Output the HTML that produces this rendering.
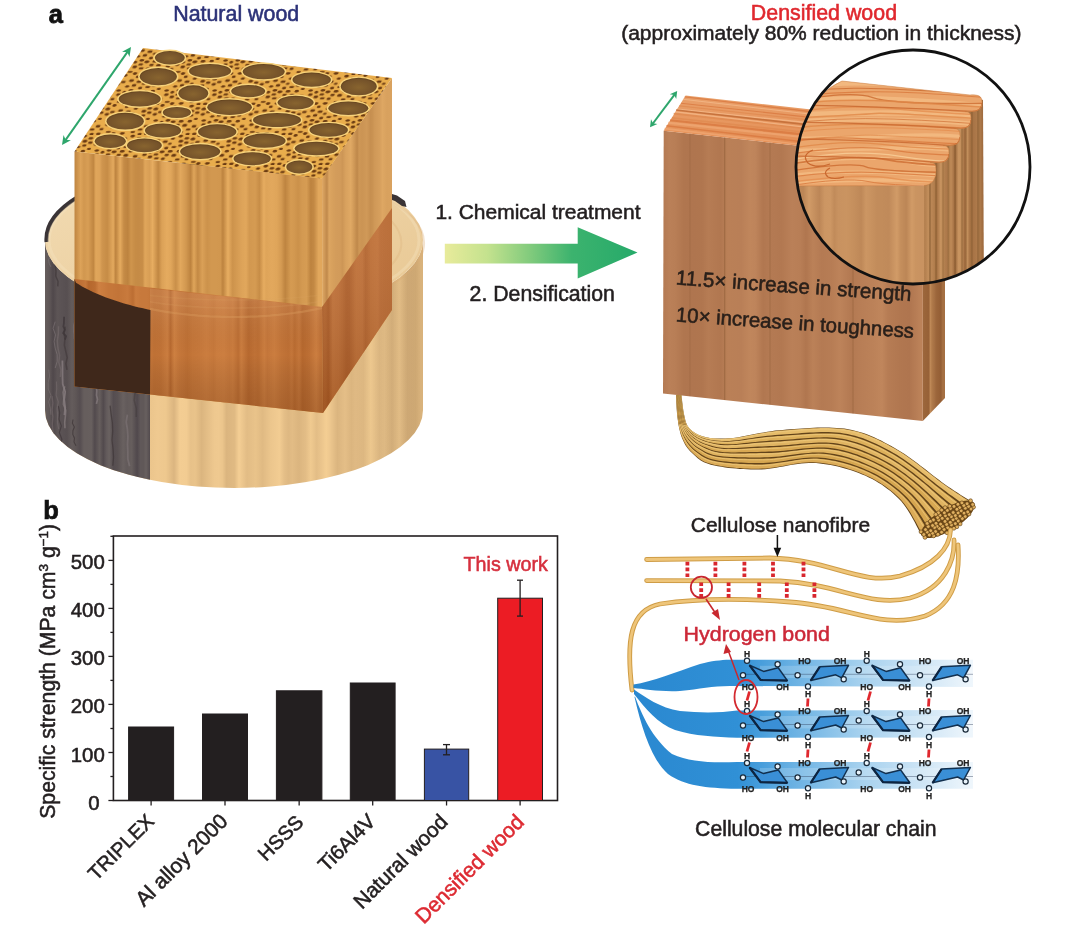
<!DOCTYPE html><html><head><meta charset="utf-8"><style>html,body{margin:0;padding:0;background:#fff;width:1065px;height:937px;overflow:hidden}svg{display:block;filter:blur(0.45px)}</style></head><body><svg width="1065" height="937" viewBox="0 0 1065 937"><defs><linearGradient id="gFront" gradientUnits="userSpaceOnUse" x1="75" y1="0" x2="323" y2="0"><stop offset="0.0000" stop-color="rgb(193, 135, 67)"/><stop offset="0.0226" stop-color="rgb(221, 163, 89)"/><stop offset="0.0360" stop-color="rgb(209, 151, 79)"/><stop offset="0.0524" stop-color="rgb(216, 158, 85)"/><stop offset="0.0741" stop-color="rgb(192, 134, 65)"/><stop offset="0.0839" stop-color="rgb(224, 166, 91)"/><stop offset="0.1000" stop-color="rgb(221, 163, 89)"/><stop offset="0.1094" stop-color="rgb(207, 149, 78)"/><stop offset="0.1301" stop-color="rgb(198, 140, 70)"/><stop offset="0.1542" stop-color="rgb(227, 169, 94)"/><stop offset="0.1641" stop-color="rgb(189, 131, 63)"/><stop offset="0.1819" stop-color="rgb(229, 171, 95)"/><stop offset="0.1972" stop-color="rgb(197, 139, 70)"/><stop offset="0.2132" stop-color="rgb(189, 131, 63)"/><stop offset="0.2261" stop-color="rgb(207, 149, 77)"/><stop offset="0.2432" stop-color="rgb(198, 140, 70)"/><stop offset="0.2562" stop-color="rgb(197, 139, 70)"/><stop offset="0.2727" stop-color="rgb(200, 142, 72)"/><stop offset="0.2824" stop-color="rgb(224, 166, 91)"/><stop offset="0.3005" stop-color="rgb(216, 158, 85)"/><stop offset="0.3128" stop-color="rgb(231, 173, 97)"/><stop offset="0.3356" stop-color="rgb(193, 135, 66)"/><stop offset="0.3502" stop-color="rgb(219, 161, 87)"/><stop offset="0.3707" stop-color="rgb(229, 171, 95)"/><stop offset="0.3866" stop-color="rgb(224, 166, 91)"/><stop offset="0.4065" stop-color="rgb(201, 143, 73)"/><stop offset="0.4250" stop-color="rgb(226, 168, 93)"/><stop offset="0.4476" stop-color="rgb(210, 152, 80)"/><stop offset="0.4662" stop-color="rgb(189, 131, 63)"/><stop offset="0.4794" stop-color="rgb(223, 165, 90)"/><stop offset="0.4952" stop-color="rgb(195, 137, 68)"/><stop offset="0.5132" stop-color="rgb(218, 160, 87)"/><stop offset="0.5331" stop-color="rgb(204, 146, 75)"/><stop offset="0.5493" stop-color="rgb(210, 152, 80)"/><stop offset="0.5709" stop-color="rgb(210, 152, 80)"/><stop offset="0.5864" stop-color="rgb(209, 151, 79)"/><stop offset="0.5962" stop-color="rgb(189, 131, 63)"/><stop offset="0.6166" stop-color="rgb(231, 173, 97)"/><stop offset="0.6352" stop-color="rgb(205, 147, 76)"/><stop offset="0.6473" stop-color="rgb(210, 152, 80)"/><stop offset="0.6720" stop-color="rgb(221, 163, 89)"/><stop offset="0.6898" stop-color="rgb(225, 167, 92)"/><stop offset="0.7028" stop-color="rgb(210, 152, 80)"/><stop offset="0.7270" stop-color="rgb(213, 155, 82)"/><stop offset="0.7436" stop-color="rgb(199, 141, 71)"/><stop offset="0.7615" stop-color="rgb(230, 172, 96)"/><stop offset="0.7710" stop-color="rgb(222, 164, 89)"/><stop offset="0.7932" stop-color="rgb(226, 168, 93)"/><stop offset="0.8141" stop-color="rgb(223, 165, 90)"/><stop offset="0.8316" stop-color="rgb(212, 154, 82)"/><stop offset="0.8476" stop-color="rgb(190, 132, 64)"/><stop offset="0.8706" stop-color="rgb(213, 155, 82)"/><stop offset="0.8831" stop-color="rgb(210, 152, 80)"/><stop offset="0.9001" stop-color="rgb(203, 145, 74)"/><stop offset="0.9148" stop-color="rgb(211, 153, 81)"/><stop offset="0.9340" stop-color="rgb(214, 156, 83)"/><stop offset="0.9505" stop-color="rgb(189, 131, 63)"/><stop offset="0.9635" stop-color="rgb(195, 137, 68)"/><stop offset="0.9820" stop-color="rgb(225, 167, 92)"/><stop offset="1.0000" stop-color="rgb(225, 167, 92)"/></linearGradient><linearGradient id="gRight" gradientUnits="userSpaceOnUse" x1="322" y1="0" x2="392" y2="0"><stop offset="0.0000" stop-color="rgb(224, 169, 101)"/><stop offset="0.0704" stop-color="rgb(192, 137, 75)"/><stop offset="0.1015" stop-color="rgb(220, 165, 97)"/><stop offset="0.1622" stop-color="rgb(214, 159, 92)"/><stop offset="0.2035" stop-color="rgb(211, 156, 91)"/><stop offset="0.2583" stop-color="rgb(210, 155, 90)"/><stop offset="0.2928" stop-color="rgb(205, 150, 86)"/><stop offset="0.3380" stop-color="rgb(216, 161, 94)"/><stop offset="0.4105" stop-color="rgb(224, 169, 100)"/><stop offset="0.4625" stop-color="rgb(206, 151, 86)"/><stop offset="0.5019" stop-color="rgb(191, 136, 74)"/><stop offset="0.5305" stop-color="rgb(206, 151, 86)"/><stop offset="0.5722" stop-color="rgb(203, 148, 84)"/><stop offset="0.6400" stop-color="rgb(208, 153, 88)"/><stop offset="0.6928" stop-color="rgb(198, 143, 80)"/><stop offset="0.7211" stop-color="rgb(201, 146, 82)"/><stop offset="0.7546" stop-color="rgb(208, 153, 88)"/><stop offset="0.8273" stop-color="rgb(214, 159, 93)"/><stop offset="0.8628" stop-color="rgb(222, 167, 99)"/><stop offset="0.9263" stop-color="rgb(216, 161, 94)"/><stop offset="0.9948" stop-color="rgb(217, 162, 95)"/><stop offset="1.0000" stop-color="rgb(217, 162, 95)"/></linearGradient><linearGradient id="gFrontLow" gradientUnits="userSpaceOnUse" x1="75" y1="0" x2="323" y2="0"><stop offset="0.0000" stop-color="rgb(187, 109, 50)"/><stop offset="0.0208" stop-color="rgb(190, 112, 53)"/><stop offset="0.0427" stop-color="rgb(197, 119, 58)"/><stop offset="0.0548" stop-color="rgb(181, 103, 45)"/><stop offset="0.0809" stop-color="rgb(187, 109, 50)"/><stop offset="0.0961" stop-color="rgb(206, 128, 66)"/><stop offset="0.1156" stop-color="rgb(202, 124, 62)"/><stop offset="0.1351" stop-color="rgb(197, 119, 58)"/><stop offset="0.1488" stop-color="rgb(197, 119, 58)"/><stop offset="0.1755" stop-color="rgb(194, 116, 56)"/><stop offset="0.1999" stop-color="rgb(198, 120, 59)"/><stop offset="0.2119" stop-color="rgb(200, 122, 61)"/><stop offset="0.2336" stop-color="rgb(188, 110, 51)"/><stop offset="0.2451" stop-color="rgb(203, 125, 63)"/><stop offset="0.2646" stop-color="rgb(199, 121, 60)"/><stop offset="0.2914" stop-color="rgb(199, 121, 60)"/><stop offset="0.3191" stop-color="rgb(191, 113, 53)"/><stop offset="0.3446" stop-color="rgb(192, 114, 54)"/><stop offset="0.3725" stop-color="rgb(203, 125, 63)"/><stop offset="0.3852" stop-color="rgb(184, 106, 48)"/><stop offset="0.4000" stop-color="rgb(206, 128, 65)"/><stop offset="0.4189" stop-color="rgb(197, 119, 58)"/><stop offset="0.4353" stop-color="rgb(194, 116, 56)"/><stop offset="0.4532" stop-color="rgb(190, 112, 52)"/><stop offset="0.4747" stop-color="rgb(196, 118, 57)"/><stop offset="0.5021" stop-color="rgb(198, 120, 59)"/><stop offset="0.5299" stop-color="rgb(203, 125, 63)"/><stop offset="0.5588" stop-color="rgb(198, 120, 59)"/><stop offset="0.5727" stop-color="rgb(203, 125, 63)"/><stop offset="0.6011" stop-color="rgb(204, 126, 64)"/><stop offset="0.6224" stop-color="rgb(199, 121, 60)"/><stop offset="0.6371" stop-color="rgb(202, 124, 62)"/><stop offset="0.6585" stop-color="rgb(188, 110, 51)"/><stop offset="0.6705" stop-color="rgb(203, 125, 63)"/><stop offset="0.6994" stop-color="rgb(183, 105, 47)"/><stop offset="0.7249" stop-color="rgb(191, 113, 54)"/><stop offset="0.7385" stop-color="rgb(188, 110, 51)"/><stop offset="0.7634" stop-color="rgb(203, 125, 63)"/><stop offset="0.7751" stop-color="rgb(196, 118, 58)"/><stop offset="0.7869" stop-color="rgb(199, 121, 60)"/><stop offset="0.8038" stop-color="rgb(203, 125, 63)"/><stop offset="0.8325" stop-color="rgb(194, 116, 56)"/><stop offset="0.8616" stop-color="rgb(189, 111, 52)"/><stop offset="0.8739" stop-color="rgb(196, 118, 58)"/><stop offset="0.8854" stop-color="rgb(186, 108, 49)"/><stop offset="0.9037" stop-color="rgb(196, 118, 58)"/><stop offset="0.9175" stop-color="rgb(182, 104, 46)"/><stop offset="0.9442" stop-color="rgb(189, 111, 52)"/><stop offset="0.9725" stop-color="rgb(204, 126, 64)"/><stop offset="0.9903" stop-color="rgb(192, 114, 55)"/><stop offset="1.0000" stop-color="rgb(192, 114, 55)"/></linearGradient><linearGradient id="gRightLow" gradientUnits="userSpaceOnUse" x1="322" y1="0" x2="392" y2="0"><stop offset="0.0000" stop-color="rgb(177, 97, 42)"/><stop offset="0.0439" stop-color="rgb(181, 101, 45)"/><stop offset="0.0911" stop-color="rgb(172, 92, 38)"/><stop offset="0.1537" stop-color="rgb(194, 114, 56)"/><stop offset="0.2413" stop-color="rgb(190, 110, 53)"/><stop offset="0.2926" stop-color="rgb(184, 104, 48)"/><stop offset="0.3474" stop-color="rgb(175, 95, 41)"/><stop offset="0.3916" stop-color="rgb(176, 96, 42)"/><stop offset="0.4870" stop-color="rgb(192, 112, 54)"/><stop offset="0.5749" stop-color="rgb(191, 111, 54)"/><stop offset="0.6245" stop-color="rgb(179, 99, 44)"/><stop offset="0.7012" stop-color="rgb(190, 110, 52)"/><stop offset="0.7921" stop-color="rgb(193, 113, 55)"/><stop offset="0.8351" stop-color="rgb(186, 106, 50)"/><stop offset="0.9145" stop-color="rgb(184, 104, 48)"/><stop offset="0.9631" stop-color="rgb(183, 103, 47)"/><stop offset="1.0000" stop-color="rgb(183, 103, 47)"/></linearGradient><linearGradient id="gCyl" gradientUnits="userSpaceOnUse" x1="150" y1="0" x2="423" y2="0"><stop offset="0.0000" stop-color="rgb(235, 197, 140)"/><stop offset="0.0268" stop-color="rgb(239, 201, 144)"/><stop offset="0.0577" stop-color="rgb(238, 200, 142)"/><stop offset="0.0881" stop-color="rgb(219, 181, 128)"/><stop offset="0.1094" stop-color="rgb(243, 205, 147)"/><stop offset="0.1344" stop-color="rgb(242, 204, 146)"/><stop offset="0.1487" stop-color="rgb(231, 193, 137)"/><stop offset="0.1656" stop-color="rgb(233, 195, 138)"/><stop offset="0.1891" stop-color="rgb(219, 181, 127)"/><stop offset="0.2054" stop-color="rgb(226, 188, 133)"/><stop offset="0.2358" stop-color="rgb(238, 200, 143)"/><stop offset="0.2510" stop-color="rgb(239, 201, 144)"/><stop offset="0.2657" stop-color="rgb(235, 197, 140)"/><stop offset="0.2803" stop-color="rgb(219, 181, 127)"/><stop offset="0.3097" stop-color="rgb(224, 186, 131)"/><stop offset="0.3260" stop-color="rgb(244, 206, 148)"/><stop offset="0.3554" stop-color="rgb(226, 188, 133)"/><stop offset="0.3867" stop-color="rgb(233, 195, 138)"/><stop offset="0.4122" stop-color="rgb(224, 186, 131)"/><stop offset="0.4431" stop-color="rgb(236, 198, 141)"/><stop offset="0.4744" stop-color="rgb(242, 204, 146)"/><stop offset="0.4924" stop-color="rgb(228, 190, 135)"/><stop offset="0.5077" stop-color="rgb(222, 184, 130)"/><stop offset="0.5210" stop-color="rgb(226, 188, 133)"/><stop offset="0.5450" stop-color="rgb(219, 181, 127)"/><stop offset="0.5706" stop-color="rgb(227, 189, 134)"/><stop offset="0.5888" stop-color="rgb(240, 202, 144)"/><stop offset="0.6104" stop-color="rgb(227, 189, 134)"/><stop offset="0.6320" stop-color="rgb(237, 199, 142)"/><stop offset="0.6452" stop-color="rgb(244, 206, 147)"/><stop offset="0.6576" stop-color="rgb(238, 200, 143)"/><stop offset="0.6865" stop-color="rgb(219, 181, 127)"/><stop offset="0.7143" stop-color="rgb(228, 190, 135)"/><stop offset="0.7379" stop-color="rgb(219, 181, 127)"/><stop offset="0.7508" stop-color="rgb(223, 185, 131)"/><stop offset="0.7819" stop-color="rgb(224, 186, 131)"/><stop offset="0.8090" stop-color="rgb(243, 205, 146)"/><stop offset="0.8399" stop-color="rgb(227, 189, 134)"/><stop offset="0.8590" stop-color="rgb(232, 194, 138)"/><stop offset="0.8865" stop-color="rgb(221, 183, 129)"/><stop offset="0.9134" stop-color="rgb(239, 201, 144)"/><stop offset="0.9426" stop-color="rgb(219, 181, 128)"/><stop offset="0.9735" stop-color="rgb(221, 183, 129)"/><stop offset="0.9924" stop-color="rgb(234, 196, 140)"/><stop offset="1.0000" stop-color="rgb(234, 196, 140)"/></linearGradient><linearGradient id="gBark" gradientUnits="userSpaceOnUse" x1="45" y1="0" x2="150" y2="0"><stop offset="0.0000" stop-color="rgb(102, 94, 93)"/><stop offset="0.0474" stop-color="rgb(93, 85, 86)"/><stop offset="0.0761" stop-color="rgb(80, 72, 75)"/><stop offset="0.1182" stop-color="rgb(93, 85, 86)"/><stop offset="0.1635" stop-color="rgb(90, 82, 84)"/><stop offset="0.2092" stop-color="rgb(87, 79, 81)"/><stop offset="0.2559" stop-color="rgb(100, 92, 92)"/><stop offset="0.2897" stop-color="rgb(95, 87, 87)"/><stop offset="0.3325" stop-color="rgb(85, 77, 80)"/><stop offset="0.3709" stop-color="rgb(102, 94, 93)"/><stop offset="0.3998" stop-color="rgb(102, 94, 93)"/><stop offset="0.4426" stop-color="rgb(103, 95, 94)"/><stop offset="0.4738" stop-color="rgb(82, 74, 77)"/><stop offset="0.5205" stop-color="rgb(102, 94, 93)"/><stop offset="0.5553" stop-color="rgb(82, 74, 77)"/><stop offset="0.5819" stop-color="rgb(97, 89, 90)"/><stop offset="0.6116" stop-color="rgb(106, 98, 97)"/><stop offset="0.6512" stop-color="rgb(85, 77, 80)"/><stop offset="0.6931" stop-color="rgb(90, 82, 83)"/><stop offset="0.7442" stop-color="rgb(105, 97, 96)"/><stop offset="0.7813" stop-color="rgb(98, 90, 90)"/><stop offset="0.8246" stop-color="rgb(102, 94, 93)"/><stop offset="0.8771" stop-color="rgb(80, 72, 76)"/><stop offset="0.9092" stop-color="rgb(96, 88, 89)"/><stop offset="0.9393" stop-color="rgb(96, 88, 88)"/><stop offset="0.9623" stop-color="rgb(104, 96, 95)"/><stop offset="0.9998" stop-color="rgb(83, 75, 78)"/><stop offset="1.0000" stop-color="rgb(83, 75, 78)"/></linearGradient><linearGradient id="gDFront" gradientUnits="userSpaceOnUse" x1="663" y1="0" x2="923" y2="0"><stop offset="0.0000" stop-color="rgb(180, 122, 83)"/><stop offset="0.0250" stop-color="rgb(186, 128, 88)"/><stop offset="0.0474" stop-color="rgb(184, 126, 86)"/><stop offset="0.0796" stop-color="rgb(176, 118, 79)"/><stop offset="0.1165" stop-color="rgb(175, 117, 79)"/><stop offset="0.1510" stop-color="rgb(176, 118, 79)"/><stop offset="0.1740" stop-color="rgb(182, 124, 84)"/><stop offset="0.2216" stop-color="rgb(177, 119, 80)"/><stop offset="0.2490" stop-color="rgb(186, 128, 87)"/><stop offset="0.3006" stop-color="rgb(185, 127, 87)"/><stop offset="0.3338" stop-color="rgb(192, 134, 92)"/><stop offset="0.3554" stop-color="rgb(190, 132, 91)"/><stop offset="0.3850" stop-color="rgb(177, 119, 80)"/><stop offset="0.4090" stop-color="rgb(180, 122, 83)"/><stop offset="0.4562" stop-color="rgb(178, 120, 81)"/><stop offset="0.4956" stop-color="rgb(186, 128, 88)"/><stop offset="0.5280" stop-color="rgb(184, 126, 86)"/><stop offset="0.5501" stop-color="rgb(176, 118, 79)"/><stop offset="0.5769" stop-color="rgb(187, 129, 88)"/><stop offset="0.6112" stop-color="rgb(180, 122, 83)"/><stop offset="0.6507" stop-color="rgb(183, 125, 85)"/><stop offset="0.6807" stop-color="rgb(189, 131, 90)"/><stop offset="0.7240" stop-color="rgb(179, 121, 82)"/><stop offset="0.7631" stop-color="rgb(184, 126, 86)"/><stop offset="0.8123" stop-color="rgb(188, 130, 89)"/><stop offset="0.8419" stop-color="rgb(192, 134, 92)"/><stop offset="0.8659" stop-color="rgb(182, 124, 84)"/><stop offset="0.9111" stop-color="rgb(177, 119, 80)"/><stop offset="0.9474" stop-color="rgb(175, 117, 79)"/><stop offset="0.9897" stop-color="rgb(188, 130, 89)"/><stop offset="1.0000" stop-color="rgb(188, 130, 89)"/></linearGradient><linearGradient id="gDRight" gradientUnits="userSpaceOnUse" x1="923" y1="0" x2="943" y2="0"><stop offset="0.0000" stop-color="rgb(157, 103, 60)"/><stop offset="0.1562" stop-color="rgb(153, 99, 56)"/><stop offset="0.2867" stop-color="rgb(151, 97, 55)"/><stop offset="0.3715" stop-color="rgb(191, 137, 87)"/><stop offset="0.4524" stop-color="rgb(176, 122, 74)"/><stop offset="0.5583" stop-color="rgb(167, 113, 68)"/><stop offset="0.6678" stop-color="rgb(156, 102, 59)"/><stop offset="0.8109" stop-color="rgb(151, 97, 55)"/><stop offset="0.8943" stop-color="rgb(148, 94, 53)"/><stop offset="0.9810" stop-color="rgb(165, 111, 66)"/><stop offset="1.0000" stop-color="rgb(165, 111, 66)"/></linearGradient><linearGradient id="gCFront" gradientUnits="userSpaceOnUse" x1="790" y1="0" x2="925" y2="0"><stop offset="0.0000" stop-color="rgb(199, 145, 95)"/><stop offset="0.0389" stop-color="rgb(191, 137, 89)"/><stop offset="0.0976" stop-color="rgb(188, 134, 86)"/><stop offset="0.1417" stop-color="rgb(209, 155, 103)"/><stop offset="0.1689" stop-color="rgb(201, 147, 97)"/><stop offset="0.2176" stop-color="rgb(188, 134, 87)"/><stop offset="0.2568" stop-color="rgb(204, 150, 99)"/><stop offset="0.2988" stop-color="rgb(205, 151, 100)"/><stop offset="0.3291" stop-color="rgb(193, 139, 90)"/><stop offset="0.3576" stop-color="rgb(200, 146, 96)"/><stop offset="0.4185" stop-color="rgb(202, 148, 97)"/><stop offset="0.4735" stop-color="rgb(197, 143, 93)"/><stop offset="0.5273" stop-color="rgb(190, 136, 88)"/><stop offset="0.5630" stop-color="rgb(204, 150, 99)"/><stop offset="0.6160" stop-color="rgb(198, 144, 94)"/><stop offset="0.6435" stop-color="rgb(194, 140, 91)"/><stop offset="0.6759" stop-color="rgb(194, 140, 91)"/><stop offset="0.7323" stop-color="rgb(192, 138, 90)"/><stop offset="0.7918" stop-color="rgb(209, 155, 103)"/><stop offset="0.8179" stop-color="rgb(197, 143, 93)"/><stop offset="0.8616" stop-color="rgb(188, 134, 86)"/><stop offset="0.9026" stop-color="rgb(209, 155, 103)"/><stop offset="0.9311" stop-color="rgb(202, 148, 97)"/><stop offset="0.9599" stop-color="rgb(201, 147, 97)"/><stop offset="1.0000" stop-color="rgb(201, 147, 97)"/></linearGradient><linearGradient id="gCRight" gradientUnits="userSpaceOnUse" x1="923" y1="0" x2="984" y2="0"><stop offset="0.0000" stop-color="rgb(181, 129, 80)"/><stop offset="0.0468" stop-color="rgb(182, 130, 81)"/><stop offset="0.0834" stop-color="rgb(194, 142, 91)"/><stop offset="0.1481" stop-color="rgb(185, 133, 84)"/><stop offset="0.1827" stop-color="rgb(179, 127, 78)"/><stop offset="0.2248" stop-color="rgb(164, 112, 67)"/><stop offset="0.2954" stop-color="rgb(203, 151, 98)"/><stop offset="0.3247" stop-color="rgb(196, 144, 92)"/><stop offset="0.3794" stop-color="rgb(171, 119, 73)"/><stop offset="0.4196" stop-color="rgb(187, 135, 85)"/><stop offset="0.4676" stop-color="rgb(187, 135, 85)"/><stop offset="0.5250" stop-color="rgb(158, 106, 62)"/><stop offset="0.5871" stop-color="rgb(203, 151, 98)"/><stop offset="0.6585" stop-color="rgb(183, 131, 82)"/><stop offset="0.6878" stop-color="rgb(152, 100, 57)"/><stop offset="0.7211" stop-color="rgb(200, 148, 96)"/><stop offset="0.7622" stop-color="rgb(171, 119, 72)"/><stop offset="0.8303" stop-color="rgb(168, 116, 70)"/><stop offset="0.8825" stop-color="rgb(174, 122, 75)"/><stop offset="0.9127" stop-color="rgb(182, 130, 81)"/><stop offset="0.9784" stop-color="rgb(160, 108, 63)"/><stop offset="1.0000" stop-color="rgb(160, 108, 63)"/></linearGradient><linearGradient id="gArrow" gradientUnits="userSpaceOnUse" x1="445" y1="0" x2="637" y2="0"><stop offset="0" stop-color="#e8eb9b"/><stop offset="0.22" stop-color="#c4e28e"/><stop offset="0.45" stop-color="#7fca7c"/><stop offset="0.66" stop-color="#3cb36e"/><stop offset="1" stop-color="#26aa6a"/></linearGradient><radialGradient id="gPore" cx="0.5" cy="0.55" r="0.6"><stop offset="0" stop-color="#88642f"/><stop offset="0.75" stop-color="#74522a"/><stop offset="1" stop-color="#553612"/></radialGradient><linearGradient id="gShadeCyl" gradientUnits="userSpaceOnUse" x1="150" y1="0" x2="423" y2="0"><stop offset="0" stop-color="#000" stop-opacity="0"/><stop offset="0.75" stop-color="#000" stop-opacity="0"/><stop offset="1" stop-color="#5a3000" stop-opacity="0.12"/></linearGradient><linearGradient id="gLowShade" gradientUnits="userSpaceOnUse" x1="0" y1="300" x2="0" y2="410"><stop offset="0" stop-color="#fff" stop-opacity="0.08"/><stop offset="0.5" stop-color="#000" stop-opacity="0"/><stop offset="1" stop-color="#401800" stop-opacity="0.18"/></linearGradient><linearGradient id="gLowShade2" gradientUnits="userSpaceOnUse" x1="0" y1="220" x2="0" y2="400"><stop offset="0" stop-color="#fff" stop-opacity="0.06"/><stop offset="1" stop-color="#401800" stop-opacity="0.15"/></linearGradient><linearGradient id="gTopCyl" x1="0" y1="0" x2="1" y2="1"><stop offset="0" stop-color="#f2dcb4"/><stop offset="1" stop-color="#e8c792"/></linearGradient><linearGradient id="gRib" gradientUnits="userSpaceOnUse" x1="634" y1="0" x2="980" y2="0"><stop offset="0" stop-color="#2a88d0"/><stop offset="0.3" stop-color="#3090d6"/><stop offset="0.45" stop-color="#66afe2"/><stop offset="0.65" stop-color="#a4d0ee"/><stop offset="0.85" stop-color="#d2e7f6"/><stop offset="1" stop-color="#f4f9fd"/></linearGradient><linearGradient id="gTopD" x1="0" y1="0" x2="0" y2="1"><stop offset="0" stop-color="#e9a06a"/><stop offset="1" stop-color="#e38a50"/></linearGradient><pattern id="pPores" patternUnits="userSpaceOnUse" width="48" height="30" patternTransform="skewX(-20)"><rect width="48" height="30" fill="#e9ad4c"/><ellipse cx="-26.3" cy="-13.2" rx="1.9" ry="1.3" fill="#6a3a12"/><ellipse cx="-26.3" cy="16.8" rx="1.9" ry="1.3" fill="#6a3a12"/><ellipse cx="-26.3" cy="46.8" rx="1.9" ry="1.3" fill="#6a3a12"/><ellipse cx="21.7" cy="-13.2" rx="1.9" ry="1.3" fill="#6a3a12"/><ellipse cx="21.7" cy="16.8" rx="1.9" ry="1.3" fill="#6a3a12"/><ellipse cx="21.7" cy="46.8" rx="1.9" ry="1.3" fill="#6a3a12"/><ellipse cx="69.7" cy="-13.2" rx="1.9" ry="1.3" fill="#6a3a12"/><ellipse cx="69.7" cy="16.8" rx="1.9" ry="1.3" fill="#6a3a12"/><ellipse cx="69.7" cy="46.8" rx="1.9" ry="1.3" fill="#6a3a12"/><ellipse cx="-3.6" cy="-16.0" rx="2.1" ry="1.1" fill="#6a3a12"/><ellipse cx="-3.6" cy="14.0" rx="2.1" ry="1.1" fill="#6a3a12"/><ellipse cx="-3.6" cy="44.0" rx="2.1" ry="1.1" fill="#6a3a12"/><ellipse cx="44.4" cy="-16.0" rx="2.1" ry="1.1" fill="#6a3a12"/><ellipse cx="44.4" cy="14.0" rx="2.1" ry="1.1" fill="#6a3a12"/><ellipse cx="44.4" cy="44.0" rx="2.1" ry="1.1" fill="#6a3a12"/><ellipse cx="92.4" cy="-16.0" rx="2.1" ry="1.1" fill="#6a3a12"/><ellipse cx="92.4" cy="14.0" rx="2.1" ry="1.1" fill="#6a3a12"/><ellipse cx="92.4" cy="44.0" rx="2.1" ry="1.1" fill="#6a3a12"/><ellipse cx="-39.1" cy="-14.6" rx="2.0" ry="1.4" fill="#6a3a12"/><ellipse cx="-39.1" cy="15.4" rx="2.0" ry="1.4" fill="#6a3a12"/><ellipse cx="-39.1" cy="45.4" rx="2.0" ry="1.4" fill="#6a3a12"/><ellipse cx="8.9" cy="-14.6" rx="2.0" ry="1.4" fill="#6a3a12"/><ellipse cx="8.9" cy="15.4" rx="2.0" ry="1.4" fill="#6a3a12"/><ellipse cx="8.9" cy="45.4" rx="2.0" ry="1.4" fill="#6a3a12"/><ellipse cx="56.9" cy="-14.6" rx="2.0" ry="1.4" fill="#6a3a12"/><ellipse cx="56.9" cy="15.4" rx="2.0" ry="1.4" fill="#6a3a12"/><ellipse cx="56.9" cy="45.4" rx="2.0" ry="1.4" fill="#6a3a12"/><ellipse cx="-17.8" cy="-6.2" rx="1.9" ry="1.0" fill="#6a3a12"/><ellipse cx="-17.8" cy="23.8" rx="1.9" ry="1.0" fill="#6a3a12"/><ellipse cx="-17.8" cy="53.8" rx="1.9" ry="1.0" fill="#6a3a12"/><ellipse cx="30.2" cy="-6.2" rx="1.9" ry="1.0" fill="#6a3a12"/><ellipse cx="30.2" cy="23.8" rx="1.9" ry="1.0" fill="#6a3a12"/><ellipse cx="30.2" cy="53.8" rx="1.9" ry="1.0" fill="#6a3a12"/><ellipse cx="78.2" cy="-6.2" rx="1.9" ry="1.0" fill="#6a3a12"/><ellipse cx="78.2" cy="23.8" rx="1.9" ry="1.0" fill="#6a3a12"/><ellipse cx="78.2" cy="53.8" rx="1.9" ry="1.0" fill="#6a3a12"/><ellipse cx="-43.5" cy="-20.9" rx="2.1" ry="1.1" fill="#6a3a12"/><ellipse cx="-43.5" cy="9.1" rx="2.1" ry="1.1" fill="#6a3a12"/><ellipse cx="-43.5" cy="39.1" rx="2.1" ry="1.1" fill="#6a3a12"/><ellipse cx="4.5" cy="-20.9" rx="2.1" ry="1.1" fill="#6a3a12"/><ellipse cx="4.5" cy="9.1" rx="2.1" ry="1.1" fill="#6a3a12"/><ellipse cx="4.5" cy="39.1" rx="2.1" ry="1.1" fill="#6a3a12"/><ellipse cx="52.5" cy="-20.9" rx="2.1" ry="1.1" fill="#6a3a12"/><ellipse cx="52.5" cy="9.1" rx="2.1" ry="1.1" fill="#6a3a12"/><ellipse cx="52.5" cy="39.1" rx="2.1" ry="1.1" fill="#6a3a12"/><ellipse cx="-43.6" cy="-5.7" rx="2.2" ry="1.4" fill="#6a3a12"/><ellipse cx="-43.6" cy="24.3" rx="2.2" ry="1.4" fill="#6a3a12"/><ellipse cx="-43.6" cy="54.3" rx="2.2" ry="1.4" fill="#6a3a12"/><ellipse cx="4.4" cy="-5.7" rx="2.2" ry="1.4" fill="#6a3a12"/><ellipse cx="4.4" cy="24.3" rx="2.2" ry="1.4" fill="#6a3a12"/><ellipse cx="4.4" cy="54.3" rx="2.2" ry="1.4" fill="#6a3a12"/><ellipse cx="52.4" cy="-5.7" rx="2.2" ry="1.4" fill="#6a3a12"/><ellipse cx="52.4" cy="24.3" rx="2.2" ry="1.4" fill="#6a3a12"/><ellipse cx="52.4" cy="54.3" rx="2.2" ry="1.4" fill="#6a3a12"/><ellipse cx="-14.7" cy="-28.7" rx="2.5" ry="1.3" fill="#6a3a12"/><ellipse cx="-14.7" cy="1.3" rx="2.5" ry="1.3" fill="#6a3a12"/><ellipse cx="-14.7" cy="31.3" rx="2.5" ry="1.3" fill="#6a3a12"/><ellipse cx="33.3" cy="-28.7" rx="2.5" ry="1.3" fill="#6a3a12"/><ellipse cx="33.3" cy="1.3" rx="2.5" ry="1.3" fill="#6a3a12"/><ellipse cx="33.3" cy="31.3" rx="2.5" ry="1.3" fill="#6a3a12"/><ellipse cx="81.3" cy="-28.7" rx="2.5" ry="1.3" fill="#6a3a12"/><ellipse cx="81.3" cy="1.3" rx="2.5" ry="1.3" fill="#6a3a12"/><ellipse cx="81.3" cy="31.3" rx="2.5" ry="1.3" fill="#6a3a12"/><ellipse cx="-0.9" cy="-1.1" rx="2.0" ry="1.1" fill="#6a3a12"/><ellipse cx="-0.9" cy="28.9" rx="2.0" ry="1.1" fill="#6a3a12"/><ellipse cx="-0.9" cy="58.9" rx="2.0" ry="1.1" fill="#6a3a12"/><ellipse cx="47.1" cy="-1.1" rx="2.0" ry="1.1" fill="#6a3a12"/><ellipse cx="47.1" cy="28.9" rx="2.0" ry="1.1" fill="#6a3a12"/><ellipse cx="47.1" cy="58.9" rx="2.0" ry="1.1" fill="#6a3a12"/><ellipse cx="95.1" cy="-1.1" rx="2.0" ry="1.1" fill="#6a3a12"/><ellipse cx="95.1" cy="28.9" rx="2.0" ry="1.1" fill="#6a3a12"/><ellipse cx="95.1" cy="58.9" rx="2.0" ry="1.1" fill="#6a3a12"/><ellipse cx="-16.6" cy="-11.5" rx="2.1" ry="1.1" fill="#6a3a12"/><ellipse cx="-16.6" cy="18.5" rx="2.1" ry="1.1" fill="#6a3a12"/><ellipse cx="-16.6" cy="48.5" rx="2.1" ry="1.1" fill="#6a3a12"/><ellipse cx="31.4" cy="-11.5" rx="2.1" ry="1.1" fill="#6a3a12"/><ellipse cx="31.4" cy="18.5" rx="2.1" ry="1.1" fill="#6a3a12"/><ellipse cx="31.4" cy="48.5" rx="2.1" ry="1.1" fill="#6a3a12"/><ellipse cx="79.4" cy="-11.5" rx="2.1" ry="1.1" fill="#6a3a12"/><ellipse cx="79.4" cy="18.5" rx="2.1" ry="1.1" fill="#6a3a12"/><ellipse cx="79.4" cy="48.5" rx="2.1" ry="1.1" fill="#6a3a12"/><ellipse cx="-40.4" cy="-29.5" rx="2.2" ry="1.2" fill="#6a3a12"/><ellipse cx="-40.4" cy="0.5" rx="2.2" ry="1.2" fill="#6a3a12"/><ellipse cx="-40.4" cy="30.5" rx="2.2" ry="1.2" fill="#6a3a12"/><ellipse cx="7.6" cy="-29.5" rx="2.2" ry="1.2" fill="#6a3a12"/><ellipse cx="7.6" cy="0.5" rx="2.2" ry="1.2" fill="#6a3a12"/><ellipse cx="7.6" cy="30.5" rx="2.2" ry="1.2" fill="#6a3a12"/><ellipse cx="55.6" cy="-29.5" rx="2.2" ry="1.2" fill="#6a3a12"/><ellipse cx="55.6" cy="0.5" rx="2.2" ry="1.2" fill="#6a3a12"/><ellipse cx="55.6" cy="30.5" rx="2.2" ry="1.2" fill="#6a3a12"/><ellipse cx="-22.6" cy="-28.2" rx="2.5" ry="1.4" fill="#6a3a12"/><ellipse cx="-22.6" cy="1.8" rx="2.5" ry="1.4" fill="#6a3a12"/><ellipse cx="-22.6" cy="31.8" rx="2.5" ry="1.4" fill="#6a3a12"/><ellipse cx="25.4" cy="-28.2" rx="2.5" ry="1.4" fill="#6a3a12"/><ellipse cx="25.4" cy="1.8" rx="2.5" ry="1.4" fill="#6a3a12"/><ellipse cx="25.4" cy="31.8" rx="2.5" ry="1.4" fill="#6a3a12"/><ellipse cx="73.4" cy="-28.2" rx="2.5" ry="1.4" fill="#6a3a12"/><ellipse cx="73.4" cy="1.8" rx="2.5" ry="1.4" fill="#6a3a12"/><ellipse cx="73.4" cy="31.8" rx="2.5" ry="1.4" fill="#6a3a12"/><ellipse cx="-26.9" cy="-4.7" rx="2.3" ry="1.5" fill="#6a3a12"/><ellipse cx="-26.9" cy="25.3" rx="2.3" ry="1.5" fill="#6a3a12"/><ellipse cx="-26.9" cy="55.3" rx="2.3" ry="1.5" fill="#6a3a12"/><ellipse cx="21.1" cy="-4.7" rx="2.3" ry="1.5" fill="#6a3a12"/><ellipse cx="21.1" cy="25.3" rx="2.3" ry="1.5" fill="#6a3a12"/><ellipse cx="21.1" cy="55.3" rx="2.3" ry="1.5" fill="#6a3a12"/><ellipse cx="69.1" cy="-4.7" rx="2.3" ry="1.5" fill="#6a3a12"/><ellipse cx="69.1" cy="25.3" rx="2.3" ry="1.5" fill="#6a3a12"/><ellipse cx="69.1" cy="55.3" rx="2.3" ry="1.5" fill="#6a3a12"/><ellipse cx="-26.0" cy="-21.7" rx="2.5" ry="1.1" fill="#6a3a12"/><ellipse cx="-26.0" cy="8.3" rx="2.5" ry="1.1" fill="#6a3a12"/><ellipse cx="-26.0" cy="38.3" rx="2.5" ry="1.1" fill="#6a3a12"/><ellipse cx="22.0" cy="-21.7" rx="2.5" ry="1.1" fill="#6a3a12"/><ellipse cx="22.0" cy="8.3" rx="2.5" ry="1.1" fill="#6a3a12"/><ellipse cx="22.0" cy="38.3" rx="2.5" ry="1.1" fill="#6a3a12"/><ellipse cx="70.0" cy="-21.7" rx="2.5" ry="1.1" fill="#6a3a12"/><ellipse cx="70.0" cy="8.3" rx="2.5" ry="1.1" fill="#6a3a12"/><ellipse cx="70.0" cy="38.3" rx="2.5" ry="1.1" fill="#6a3a12"/><ellipse cx="-7.7" cy="-8.8" rx="2.5" ry="1.5" fill="#6a3a12"/><ellipse cx="-7.7" cy="21.2" rx="2.5" ry="1.5" fill="#6a3a12"/><ellipse cx="-7.7" cy="51.2" rx="2.5" ry="1.5" fill="#6a3a12"/><ellipse cx="40.3" cy="-8.8" rx="2.5" ry="1.5" fill="#6a3a12"/><ellipse cx="40.3" cy="21.2" rx="2.5" ry="1.5" fill="#6a3a12"/><ellipse cx="40.3" cy="51.2" rx="2.5" ry="1.5" fill="#6a3a12"/><ellipse cx="88.3" cy="-8.8" rx="2.5" ry="1.5" fill="#6a3a12"/><ellipse cx="88.3" cy="21.2" rx="2.5" ry="1.5" fill="#6a3a12"/><ellipse cx="88.3" cy="51.2" rx="2.5" ry="1.5" fill="#6a3a12"/><ellipse cx="-32.9" cy="-23.1" rx="2.4" ry="1.5" fill="#6a3a12"/><ellipse cx="-32.9" cy="6.9" rx="2.4" ry="1.5" fill="#6a3a12"/><ellipse cx="-32.9" cy="36.9" rx="2.4" ry="1.5" fill="#6a3a12"/><ellipse cx="15.1" cy="-23.1" rx="2.4" ry="1.5" fill="#6a3a12"/><ellipse cx="15.1" cy="6.9" rx="2.4" ry="1.5" fill="#6a3a12"/><ellipse cx="15.1" cy="36.9" rx="2.4" ry="1.5" fill="#6a3a12"/><ellipse cx="63.1" cy="-23.1" rx="2.4" ry="1.5" fill="#6a3a12"/><ellipse cx="63.1" cy="6.9" rx="2.4" ry="1.5" fill="#6a3a12"/><ellipse cx="63.1" cy="36.9" rx="2.4" ry="1.5" fill="#6a3a12"/><ellipse cx="-34.1" cy="-27.9" rx="1.8" ry="1.5" fill="#6a3a12"/><ellipse cx="-34.1" cy="2.1" rx="1.8" ry="1.5" fill="#6a3a12"/><ellipse cx="-34.1" cy="32.1" rx="1.8" ry="1.5" fill="#6a3a12"/><ellipse cx="13.9" cy="-27.9" rx="1.8" ry="1.5" fill="#6a3a12"/><ellipse cx="13.9" cy="2.1" rx="1.8" ry="1.5" fill="#6a3a12"/><ellipse cx="13.9" cy="32.1" rx="1.8" ry="1.5" fill="#6a3a12"/><ellipse cx="61.9" cy="-27.9" rx="1.8" ry="1.5" fill="#6a3a12"/><ellipse cx="61.9" cy="2.1" rx="1.8" ry="1.5" fill="#6a3a12"/><ellipse cx="61.9" cy="32.1" rx="1.8" ry="1.5" fill="#6a3a12"/><ellipse cx="-11.2" cy="-18.0" rx="2.3" ry="1.1" fill="#6a3a12"/><ellipse cx="-11.2" cy="12.0" rx="2.3" ry="1.1" fill="#6a3a12"/><ellipse cx="-11.2" cy="42.0" rx="2.3" ry="1.1" fill="#6a3a12"/><ellipse cx="36.8" cy="-18.0" rx="2.3" ry="1.1" fill="#6a3a12"/><ellipse cx="36.8" cy="12.0" rx="2.3" ry="1.1" fill="#6a3a12"/><ellipse cx="36.8" cy="42.0" rx="2.3" ry="1.1" fill="#6a3a12"/><ellipse cx="84.8" cy="-18.0" rx="2.3" ry="1.1" fill="#6a3a12"/><ellipse cx="84.8" cy="12.0" rx="2.3" ry="1.1" fill="#6a3a12"/><ellipse cx="84.8" cy="42.0" rx="2.3" ry="1.1" fill="#6a3a12"/><ellipse cx="-48.0" cy="-23.7" rx="2.4" ry="1.4" fill="#6a3a12"/><ellipse cx="-48.0" cy="6.3" rx="2.4" ry="1.4" fill="#6a3a12"/><ellipse cx="-48.0" cy="36.3" rx="2.4" ry="1.4" fill="#6a3a12"/><ellipse cx="0.0" cy="-23.7" rx="2.4" ry="1.4" fill="#6a3a12"/><ellipse cx="0.0" cy="6.3" rx="2.4" ry="1.4" fill="#6a3a12"/><ellipse cx="0.0" cy="36.3" rx="2.4" ry="1.4" fill="#6a3a12"/><ellipse cx="48.0" cy="-23.7" rx="2.4" ry="1.4" fill="#6a3a12"/><ellipse cx="48.0" cy="6.3" rx="2.4" ry="1.4" fill="#6a3a12"/><ellipse cx="48.0" cy="36.3" rx="2.4" ry="1.4" fill="#6a3a12"/><ellipse cx="-44.5" cy="-11.1" rx="2.3" ry="1.5" fill="#6a3a12"/><ellipse cx="-44.5" cy="18.9" rx="2.3" ry="1.5" fill="#6a3a12"/><ellipse cx="-44.5" cy="48.9" rx="2.3" ry="1.5" fill="#6a3a12"/><ellipse cx="3.5" cy="-11.1" rx="2.3" ry="1.5" fill="#6a3a12"/><ellipse cx="3.5" cy="18.9" rx="2.3" ry="1.5" fill="#6a3a12"/><ellipse cx="3.5" cy="48.9" rx="2.3" ry="1.5" fill="#6a3a12"/><ellipse cx="51.5" cy="-11.1" rx="2.3" ry="1.5" fill="#6a3a12"/><ellipse cx="51.5" cy="18.9" rx="2.3" ry="1.5" fill="#6a3a12"/><ellipse cx="51.5" cy="48.9" rx="2.3" ry="1.5" fill="#6a3a12"/><ellipse cx="-1.7" cy="-7.3" rx="2.3" ry="1.3" fill="#6a3a12"/><ellipse cx="-1.7" cy="22.7" rx="2.3" ry="1.3" fill="#6a3a12"/><ellipse cx="-1.7" cy="52.7" rx="2.3" ry="1.3" fill="#6a3a12"/><ellipse cx="46.3" cy="-7.3" rx="2.3" ry="1.3" fill="#6a3a12"/><ellipse cx="46.3" cy="22.7" rx="2.3" ry="1.3" fill="#6a3a12"/><ellipse cx="46.3" cy="52.7" rx="2.3" ry="1.3" fill="#6a3a12"/><ellipse cx="94.3" cy="-7.3" rx="2.3" ry="1.3" fill="#6a3a12"/><ellipse cx="94.3" cy="22.7" rx="2.3" ry="1.3" fill="#6a3a12"/><ellipse cx="94.3" cy="52.7" rx="2.3" ry="1.3" fill="#6a3a12"/><ellipse cx="-9.7" cy="-24.7" rx="2.5" ry="1.5" fill="#6a3a12"/><ellipse cx="-9.7" cy="5.3" rx="2.5" ry="1.5" fill="#6a3a12"/><ellipse cx="-9.7" cy="35.3" rx="2.5" ry="1.5" fill="#6a3a12"/><ellipse cx="38.3" cy="-24.7" rx="2.5" ry="1.5" fill="#6a3a12"/><ellipse cx="38.3" cy="5.3" rx="2.5" ry="1.5" fill="#6a3a12"/><ellipse cx="38.3" cy="35.3" rx="2.5" ry="1.5" fill="#6a3a12"/><ellipse cx="86.3" cy="-24.7" rx="2.5" ry="1.5" fill="#6a3a12"/><ellipse cx="86.3" cy="5.3" rx="2.5" ry="1.5" fill="#6a3a12"/><ellipse cx="86.3" cy="35.3" rx="2.5" ry="1.5" fill="#6a3a12"/><ellipse cx="-21.2" cy="-16.6" rx="2.5" ry="1.3" fill="#6a3a12"/><ellipse cx="-21.2" cy="13.4" rx="2.5" ry="1.3" fill="#6a3a12"/><ellipse cx="-21.2" cy="43.4" rx="2.5" ry="1.3" fill="#6a3a12"/><ellipse cx="26.8" cy="-16.6" rx="2.5" ry="1.3" fill="#6a3a12"/><ellipse cx="26.8" cy="13.4" rx="2.5" ry="1.3" fill="#6a3a12"/><ellipse cx="26.8" cy="43.4" rx="2.5" ry="1.3" fill="#6a3a12"/><ellipse cx="74.8" cy="-16.6" rx="2.5" ry="1.3" fill="#6a3a12"/><ellipse cx="74.8" cy="13.4" rx="2.5" ry="1.3" fill="#6a3a12"/><ellipse cx="74.8" cy="43.4" rx="2.5" ry="1.3" fill="#6a3a12"/><ellipse cx="-38.8" cy="-8.0" rx="2.4" ry="1.1" fill="#6a3a12"/><ellipse cx="-38.8" cy="22.0" rx="2.4" ry="1.1" fill="#6a3a12"/><ellipse cx="-38.8" cy="52.0" rx="2.4" ry="1.1" fill="#6a3a12"/><ellipse cx="9.2" cy="-8.0" rx="2.4" ry="1.1" fill="#6a3a12"/><ellipse cx="9.2" cy="22.0" rx="2.4" ry="1.1" fill="#6a3a12"/><ellipse cx="9.2" cy="52.0" rx="2.4" ry="1.1" fill="#6a3a12"/><ellipse cx="57.2" cy="-8.0" rx="2.4" ry="1.1" fill="#6a3a12"/><ellipse cx="57.2" cy="22.0" rx="2.4" ry="1.1" fill="#6a3a12"/><ellipse cx="57.2" cy="52.0" rx="2.4" ry="1.1" fill="#6a3a12"/><ellipse cx="-33.4" cy="-3.5" rx="2.0" ry="1.1" fill="#6a3a12"/><ellipse cx="-33.4" cy="26.5" rx="2.0" ry="1.1" fill="#6a3a12"/><ellipse cx="-33.4" cy="56.5" rx="2.0" ry="1.1" fill="#6a3a12"/><ellipse cx="14.6" cy="-3.5" rx="2.0" ry="1.1" fill="#6a3a12"/><ellipse cx="14.6" cy="26.5" rx="2.0" ry="1.1" fill="#6a3a12"/><ellipse cx="14.6" cy="56.5" rx="2.0" ry="1.1" fill="#6a3a12"/><ellipse cx="62.6" cy="-3.5" rx="2.0" ry="1.1" fill="#6a3a12"/><ellipse cx="62.6" cy="26.5" rx="2.0" ry="1.1" fill="#6a3a12"/><ellipse cx="62.6" cy="56.5" rx="2.0" ry="1.1" fill="#6a3a12"/><ellipse cx="-30.2" cy="-16.4" rx="2.1" ry="1.4" fill="#6a3a12"/><ellipse cx="-30.2" cy="13.6" rx="2.1" ry="1.4" fill="#6a3a12"/><ellipse cx="-30.2" cy="43.6" rx="2.1" ry="1.4" fill="#6a3a12"/><ellipse cx="17.8" cy="-16.4" rx="2.1" ry="1.4" fill="#6a3a12"/><ellipse cx="17.8" cy="13.6" rx="2.1" ry="1.4" fill="#6a3a12"/><ellipse cx="17.8" cy="43.6" rx="2.1" ry="1.4" fill="#6a3a12"/><ellipse cx="65.8" cy="-16.4" rx="2.1" ry="1.4" fill="#6a3a12"/><ellipse cx="65.8" cy="13.6" rx="2.1" ry="1.4" fill="#6a3a12"/><ellipse cx="65.8" cy="43.6" rx="2.1" ry="1.4" fill="#6a3a12"/><ellipse cx="-39.2" cy="-25.4" rx="2.3" ry="1.4" fill="#6a3a12"/><ellipse cx="-39.2" cy="4.6" rx="2.3" ry="1.4" fill="#6a3a12"/><ellipse cx="-39.2" cy="34.6" rx="2.3" ry="1.4" fill="#6a3a12"/><ellipse cx="8.8" cy="-25.4" rx="2.3" ry="1.4" fill="#6a3a12"/><ellipse cx="8.8" cy="4.6" rx="2.3" ry="1.4" fill="#6a3a12"/><ellipse cx="8.8" cy="34.6" rx="2.3" ry="1.4" fill="#6a3a12"/><ellipse cx="56.8" cy="-25.4" rx="2.3" ry="1.4" fill="#6a3a12"/><ellipse cx="56.8" cy="4.6" rx="2.3" ry="1.4" fill="#6a3a12"/><ellipse cx="56.8" cy="34.6" rx="2.3" ry="1.4" fill="#6a3a12"/><ellipse cx="-19.4" cy="-21.2" rx="2.0" ry="1.2" fill="#6a3a12"/><ellipse cx="-19.4" cy="8.8" rx="2.0" ry="1.2" fill="#6a3a12"/><ellipse cx="-19.4" cy="38.8" rx="2.0" ry="1.2" fill="#6a3a12"/><ellipse cx="28.6" cy="-21.2" rx="2.0" ry="1.2" fill="#6a3a12"/><ellipse cx="28.6" cy="8.8" rx="2.0" ry="1.2" fill="#6a3a12"/><ellipse cx="28.6" cy="38.8" rx="2.0" ry="1.2" fill="#6a3a12"/><ellipse cx="76.6" cy="-21.2" rx="2.0" ry="1.2" fill="#6a3a12"/><ellipse cx="76.6" cy="8.8" rx="2.0" ry="1.2" fill="#6a3a12"/><ellipse cx="76.6" cy="38.8" rx="2.0" ry="1.2" fill="#6a3a12"/><ellipse cx="-12.6" cy="-3.0" rx="2.5" ry="1.1" fill="#6a3a12"/><ellipse cx="-12.6" cy="27.0" rx="2.5" ry="1.1" fill="#6a3a12"/><ellipse cx="-12.6" cy="57.0" rx="2.5" ry="1.1" fill="#6a3a12"/><ellipse cx="35.4" cy="-3.0" rx="2.5" ry="1.1" fill="#6a3a12"/><ellipse cx="35.4" cy="27.0" rx="2.5" ry="1.1" fill="#6a3a12"/><ellipse cx="35.4" cy="57.0" rx="2.5" ry="1.1" fill="#6a3a12"/><ellipse cx="83.4" cy="-3.0" rx="2.5" ry="1.1" fill="#6a3a12"/><ellipse cx="83.4" cy="27.0" rx="2.5" ry="1.1" fill="#6a3a12"/><ellipse cx="83.4" cy="57.0" rx="2.5" ry="1.1" fill="#6a3a12"/><ellipse cx="-31.1" cy="-9.4" rx="2.5" ry="1.4" fill="#6a3a12"/><ellipse cx="-31.1" cy="20.6" rx="2.5" ry="1.4" fill="#6a3a12"/><ellipse cx="-31.1" cy="50.6" rx="2.5" ry="1.4" fill="#6a3a12"/><ellipse cx="16.9" cy="-9.4" rx="2.5" ry="1.4" fill="#6a3a12"/><ellipse cx="16.9" cy="20.6" rx="2.5" ry="1.4" fill="#6a3a12"/><ellipse cx="16.9" cy="50.6" rx="2.5" ry="1.4" fill="#6a3a12"/><ellipse cx="64.9" cy="-9.4" rx="2.5" ry="1.4" fill="#6a3a12"/><ellipse cx="64.9" cy="20.6" rx="2.5" ry="1.4" fill="#6a3a12"/><ellipse cx="64.9" cy="50.6" rx="2.5" ry="1.4" fill="#6a3a12"/><ellipse cx="-6.1" cy="-28.8" rx="2.1" ry="1.4" fill="#6a3a12"/><ellipse cx="-6.1" cy="1.2" rx="2.1" ry="1.4" fill="#6a3a12"/><ellipse cx="-6.1" cy="31.2" rx="2.1" ry="1.4" fill="#6a3a12"/><ellipse cx="41.9" cy="-28.8" rx="2.1" ry="1.4" fill="#6a3a12"/><ellipse cx="41.9" cy="1.2" rx="2.1" ry="1.4" fill="#6a3a12"/><ellipse cx="41.9" cy="31.2" rx="2.1" ry="1.4" fill="#6a3a12"/><ellipse cx="89.9" cy="-28.8" rx="2.1" ry="1.4" fill="#6a3a12"/><ellipse cx="89.9" cy="1.2" rx="2.1" ry="1.4" fill="#6a3a12"/><ellipse cx="89.9" cy="31.2" rx="2.1" ry="1.4" fill="#6a3a12"/><ellipse cx="-23.2" cy="-8.3" rx="2.6" ry="1.3" fill="#6a3a12"/><ellipse cx="-23.2" cy="21.7" rx="2.6" ry="1.3" fill="#6a3a12"/><ellipse cx="-23.2" cy="51.7" rx="2.6" ry="1.3" fill="#6a3a12"/><ellipse cx="24.8" cy="-8.3" rx="2.6" ry="1.3" fill="#6a3a12"/><ellipse cx="24.8" cy="21.7" rx="2.6" ry="1.3" fill="#6a3a12"/><ellipse cx="24.8" cy="51.7" rx="2.6" ry="1.3" fill="#6a3a12"/><ellipse cx="72.8" cy="-8.3" rx="2.6" ry="1.3" fill="#6a3a12"/><ellipse cx="72.8" cy="21.7" rx="2.6" ry="1.3" fill="#6a3a12"/><ellipse cx="72.8" cy="51.7" rx="2.6" ry="1.3" fill="#6a3a12"/><ellipse cx="-4.7" cy="-20.5" rx="2.4" ry="1.1" fill="#6a3a12"/><ellipse cx="-4.7" cy="9.5" rx="2.4" ry="1.1" fill="#6a3a12"/><ellipse cx="-4.7" cy="39.5" rx="2.4" ry="1.1" fill="#6a3a12"/><ellipse cx="43.3" cy="-20.5" rx="2.4" ry="1.1" fill="#6a3a12"/><ellipse cx="43.3" cy="9.5" rx="2.4" ry="1.1" fill="#6a3a12"/><ellipse cx="43.3" cy="39.5" rx="2.4" ry="1.1" fill="#6a3a12"/><ellipse cx="91.3" cy="-20.5" rx="2.4" ry="1.1" fill="#6a3a12"/><ellipse cx="91.3" cy="9.5" rx="2.4" ry="1.1" fill="#6a3a12"/><ellipse cx="91.3" cy="39.5" rx="2.4" ry="1.1" fill="#6a3a12"/><ellipse cx="-35.7" cy="-18.0" rx="2.6" ry="1.0" fill="#6a3a12"/><ellipse cx="-35.7" cy="12.0" rx="2.6" ry="1.0" fill="#6a3a12"/><ellipse cx="-35.7" cy="42.0" rx="2.6" ry="1.0" fill="#6a3a12"/><ellipse cx="12.3" cy="-18.0" rx="2.6" ry="1.0" fill="#6a3a12"/><ellipse cx="12.3" cy="12.0" rx="2.6" ry="1.0" fill="#6a3a12"/><ellipse cx="12.3" cy="42.0" rx="2.6" ry="1.0" fill="#6a3a12"/><ellipse cx="60.3" cy="-18.0" rx="2.6" ry="1.0" fill="#6a3a12"/><ellipse cx="60.3" cy="12.0" rx="2.6" ry="1.0" fill="#6a3a12"/><ellipse cx="60.3" cy="42.0" rx="2.6" ry="1.0" fill="#6a3a12"/><ellipse cx="-9.7" cy="-13.8" rx="2.3" ry="1.4" fill="#6a3a12"/><ellipse cx="-9.7" cy="16.2" rx="2.3" ry="1.4" fill="#6a3a12"/><ellipse cx="-9.7" cy="46.2" rx="2.3" ry="1.4" fill="#6a3a12"/><ellipse cx="38.3" cy="-13.8" rx="2.3" ry="1.4" fill="#6a3a12"/><ellipse cx="38.3" cy="16.2" rx="2.3" ry="1.4" fill="#6a3a12"/><ellipse cx="38.3" cy="46.2" rx="2.3" ry="1.4" fill="#6a3a12"/><ellipse cx="86.3" cy="-13.8" rx="2.3" ry="1.4" fill="#6a3a12"/><ellipse cx="86.3" cy="16.2" rx="2.3" ry="1.4" fill="#6a3a12"/><ellipse cx="86.3" cy="46.2" rx="2.3" ry="1.4" fill="#6a3a12"/><ellipse cx="-27.8" cy="-25.6" rx="2.4" ry="1.1" fill="#6a3a12"/><ellipse cx="-27.8" cy="4.4" rx="2.4" ry="1.1" fill="#6a3a12"/><ellipse cx="-27.8" cy="34.4" rx="2.4" ry="1.1" fill="#6a3a12"/><ellipse cx="20.2" cy="-25.6" rx="2.4" ry="1.1" fill="#6a3a12"/><ellipse cx="20.2" cy="4.4" rx="2.4" ry="1.1" fill="#6a3a12"/><ellipse cx="20.2" cy="34.4" rx="2.4" ry="1.1" fill="#6a3a12"/><ellipse cx="68.2" cy="-25.6" rx="2.4" ry="1.1" fill="#6a3a12"/><ellipse cx="68.2" cy="4.4" rx="2.4" ry="1.1" fill="#6a3a12"/><ellipse cx="68.2" cy="34.4" rx="2.4" ry="1.1" fill="#6a3a12"/><ellipse cx="-45.0" cy="-16.2" rx="2.3" ry="1.1" fill="#6a3a12"/><ellipse cx="-45.0" cy="13.8" rx="2.3" ry="1.1" fill="#6a3a12"/><ellipse cx="-45.0" cy="43.8" rx="2.3" ry="1.1" fill="#6a3a12"/><ellipse cx="3.0" cy="-16.2" rx="2.3" ry="1.1" fill="#6a3a12"/><ellipse cx="3.0" cy="13.8" rx="2.3" ry="1.1" fill="#6a3a12"/><ellipse cx="3.0" cy="43.8" rx="2.3" ry="1.1" fill="#6a3a12"/><ellipse cx="51.0" cy="-16.2" rx="2.3" ry="1.1" fill="#6a3a12"/><ellipse cx="51.0" cy="13.8" rx="2.3" ry="1.1" fill="#6a3a12"/><ellipse cx="51.0" cy="43.8" rx="2.3" ry="1.1" fill="#6a3a12"/><ellipse cx="-19.9" cy="-1.8" rx="2.0" ry="1.4" fill="#6a3a12"/><ellipse cx="-19.9" cy="28.2" rx="2.0" ry="1.4" fill="#6a3a12"/><ellipse cx="-19.9" cy="58.2" rx="2.0" ry="1.4" fill="#6a3a12"/><ellipse cx="28.1" cy="-1.8" rx="2.0" ry="1.4" fill="#6a3a12"/><ellipse cx="28.1" cy="28.2" rx="2.0" ry="1.4" fill="#6a3a12"/><ellipse cx="28.1" cy="58.2" rx="2.0" ry="1.4" fill="#6a3a12"/><ellipse cx="76.1" cy="-1.8" rx="2.0" ry="1.4" fill="#6a3a12"/><ellipse cx="76.1" cy="28.2" rx="2.0" ry="1.4" fill="#6a3a12"/><ellipse cx="76.1" cy="58.2" rx="2.0" ry="1.4" fill="#6a3a12"/><ellipse cx="-2.8" cy="-11.7" rx="2.5" ry="1.1" fill="#6a3a12"/><ellipse cx="-2.8" cy="18.3" rx="2.5" ry="1.1" fill="#6a3a12"/><ellipse cx="-2.8" cy="48.3" rx="2.5" ry="1.1" fill="#6a3a12"/><ellipse cx="45.2" cy="-11.7" rx="2.5" ry="1.1" fill="#6a3a12"/><ellipse cx="45.2" cy="18.3" rx="2.5" ry="1.1" fill="#6a3a12"/><ellipse cx="45.2" cy="48.3" rx="2.5" ry="1.1" fill="#6a3a12"/><ellipse cx="93.2" cy="-11.7" rx="2.5" ry="1.1" fill="#6a3a12"/><ellipse cx="93.2" cy="18.3" rx="2.5" ry="1.1" fill="#6a3a12"/><ellipse cx="93.2" cy="48.3" rx="2.5" ry="1.1" fill="#6a3a12"/><ellipse cx="-28.2" cy="-29.7" rx="2.4" ry="1.3" fill="#6a3a12"/><ellipse cx="-28.2" cy="0.3" rx="2.4" ry="1.3" fill="#6a3a12"/><ellipse cx="-28.2" cy="30.3" rx="2.4" ry="1.3" fill="#6a3a12"/><ellipse cx="19.8" cy="-29.7" rx="2.4" ry="1.3" fill="#6a3a12"/><ellipse cx="19.8" cy="0.3" rx="2.4" ry="1.3" fill="#6a3a12"/><ellipse cx="19.8" cy="30.3" rx="2.4" ry="1.3" fill="#6a3a12"/><ellipse cx="67.8" cy="-29.7" rx="2.4" ry="1.3" fill="#6a3a12"/><ellipse cx="67.8" cy="0.3" rx="2.4" ry="1.3" fill="#6a3a12"/><ellipse cx="67.8" cy="30.3" rx="2.4" ry="1.3" fill="#6a3a12"/><ellipse cx="-6.7" cy="-4.4" rx="2.2" ry="1.2" fill="#6a3a12"/><ellipse cx="-6.7" cy="25.6" rx="2.2" ry="1.2" fill="#6a3a12"/><ellipse cx="-6.7" cy="55.6" rx="2.2" ry="1.2" fill="#6a3a12"/><ellipse cx="41.3" cy="-4.4" rx="2.2" ry="1.2" fill="#6a3a12"/><ellipse cx="41.3" cy="25.6" rx="2.2" ry="1.2" fill="#6a3a12"/><ellipse cx="41.3" cy="55.6" rx="2.2" ry="1.2" fill="#6a3a12"/><ellipse cx="89.3" cy="-4.4" rx="2.2" ry="1.2" fill="#6a3a12"/><ellipse cx="89.3" cy="25.6" rx="2.2" ry="1.2" fill="#6a3a12"/><ellipse cx="89.3" cy="55.6" rx="2.2" ry="1.2" fill="#6a3a12"/><ellipse cx="-16.9" cy="-25.0" rx="2.3" ry="1.3" fill="#6a3a12"/><ellipse cx="-16.9" cy="5.0" rx="2.3" ry="1.3" fill="#6a3a12"/><ellipse cx="-16.9" cy="35.0" rx="2.3" ry="1.3" fill="#6a3a12"/><ellipse cx="31.1" cy="-25.0" rx="2.3" ry="1.3" fill="#6a3a12"/><ellipse cx="31.1" cy="5.0" rx="2.3" ry="1.3" fill="#6a3a12"/><ellipse cx="31.1" cy="35.0" rx="2.3" ry="1.3" fill="#6a3a12"/><ellipse cx="79.1" cy="-25.0" rx="2.3" ry="1.3" fill="#6a3a12"/><ellipse cx="79.1" cy="5.0" rx="2.3" ry="1.3" fill="#6a3a12"/><ellipse cx="79.1" cy="35.0" rx="2.3" ry="1.3" fill="#6a3a12"/></pattern><clipPath id="cCircle"><circle cx="913" cy="167" r="117"/></clipPath></defs>
<path d="M45,240 L45,410 A189,78 0 0 0 423,410 L423,240 A189,78 0 0 1 45,240 Z" fill="url(#gCyl)"/>
<clipPath id="cBark"><rect x="40" y="150" width="110" height="400"/></clipPath>
<path d="M45,240 L45,410 A189,78 0 0 0 423,410 L423,240 A189,78 0 0 1 45,240 Z" fill="url(#gShadeCyl)"/>
<path d="M45,240 L45,410 A189,78 0 0 0 423,410 L423,240 A189,78 0 0 1 45,240 Z" fill="url(#gBark)" clip-path="url(#cBark)"/>
<clipPath id="cBark2"><path d="M45,240 L45,410 A189,78 0 0 0 423,410 L423,240 A189,78 0 0 1 45,240 Z"/></clipPath>
<g clip-path="url(#cBark2)">
<polyline points="129.3,298.7 127.4,303.1 128.7,307.6 129.2,312.1 129.5,316.6 128.4,321.1 130.0,325.5 129.9,330.0" fill="none" stroke="#7a7072" stroke-width="0.8" opacity="0.78" clip-path="url(#cBark)"/>
<polyline points="64.8,386.4 63.1,392.4 63.8,398.4 63.4,404.3 65.8,410.3 65.4,416.3 64.7,422.3 65.0,428.3" fill="none" stroke="#8a8082" stroke-width="1.6" opacity="0.68" clip-path="url(#cBark)"/>
<polyline points="137.6,347.2 140.0,353.3 140.1,359.5 138.9,365.6 139.5,371.8 139.1,377.9 140.9,384.1 142.0,390.2" fill="none" stroke="#3e3638" stroke-width="1.8" opacity="0.51" clip-path="url(#cBark)"/>
<polyline points="110.1,405.6 111.1,414.2 112.4,422.8 112.7,431.4 112.0,440.0 113.0,448.6 113.5,457.2 112.8,465.8" fill="none" stroke="#3e3638" stroke-width="1.3" opacity="0.70" clip-path="url(#cBark)"/>
<polyline points="123.8,309.2 125.6,317.6 124.6,326.1 126.0,334.5 128.3,343.0 126.1,351.4 129.1,359.9 129.3,368.4" fill="none" stroke="#3e3638" stroke-width="1.3" opacity="0.66" clip-path="url(#cBark)"/>
<polyline points="130.8,357.8 129.5,361.8 131.1,365.7 130.9,369.7 132.5,373.6 131.5,377.6 130.4,381.5 133.0,385.5" fill="none" stroke="#8a8082" stroke-width="1.6" opacity="0.70" clip-path="url(#cBark)"/>
<polyline points="50.0,241.5 47.8,245.1 48.8,248.7 49.2,252.3 50.6,256.0 48.6,259.6 49.1,263.2 50.8,266.8" fill="none" stroke="#8a8082" stroke-width="1.0" opacity="0.46" clip-path="url(#cBark)"/>
<polyline points="52.0,396.1 52.9,403.0 52.1,409.9 52.9,416.8 52.3,423.7 52.9,430.6 53.6,437.5 54.8,444.4" fill="none" stroke="#7a7072" stroke-width="1.4" opacity="0.52" clip-path="url(#cBark)"/>
<polyline points="74.7,321.7 73.4,325.9 73.4,330.1 74.0,334.2 74.1,338.4 76.6,342.6 75.7,346.8 76.5,351.0" fill="none" stroke="#7a7072" stroke-width="1.0" opacity="0.78" clip-path="url(#cBark)"/>
<polyline points="86.2,322.8 86.7,328.7 85.3,334.6 87.4,340.5 86.5,346.3 86.3,352.2 88.4,358.1 88.8,363.9" fill="none" stroke="#3e3638" stroke-width="1.1" opacity="0.77" clip-path="url(#cBark)"/>
<polyline points="127.4,414.6 126.2,422.0 127.4,429.4 127.9,436.7 127.5,444.1 127.8,451.5 127.8,458.9 129.6,466.2" fill="none" stroke="#7a7072" stroke-width="1.8" opacity="0.75" clip-path="url(#cBark)"/>
<polyline points="132.2,358.6 132.1,366.9 132.6,375.2 135.4,383.6 135.1,391.9 134.1,400.2 136.3,408.5 136.2,416.9" fill="none" stroke="#3e3638" stroke-width="1.5" opacity="0.42" clip-path="url(#cBark)"/>
<polyline points="48.7,369.7 49.6,376.1 48.2,382.6 48.2,389.0 51.0,395.4 48.6,401.8 50.3,408.2 50.9,414.7" fill="none" stroke="#7a7072" stroke-width="0.9" opacity="0.68" clip-path="url(#cBark)"/>
<polyline points="55.2,321.7 53.1,328.3 55.5,334.9 54.1,341.5 55.2,348.1 57.2,354.8 57.2,361.4 55.2,368.0" fill="none" stroke="#8a8082" stroke-width="0.9" opacity="0.55" clip-path="url(#cBark)"/>
<polyline points="58.3,405.8 59.7,412.5 59.0,419.2 61.3,425.9 59.4,432.6 61.9,439.3 59.8,446.0 60.0,452.7" fill="none" stroke="#3e3638" stroke-width="1.2" opacity="0.69" clip-path="url(#cBark)"/>
<polyline points="65.2,326.7 64.1,332.9 64.9,339.0 64.4,345.2 65.8,351.4 67.2,357.6 65.9,363.7 67.0,369.9" fill="none" stroke="#3e3638" stroke-width="1.6" opacity="0.56" clip-path="url(#cBark)"/>
<polyline points="56.4,381.5 56.7,388.3 56.1,395.1 58.3,401.9 57.1,408.7 57.6,415.6 57.5,422.4 58.7,429.2" fill="none" stroke="#7a7072" stroke-width="1.2" opacity="0.49" clip-path="url(#cBark)"/>
<polyline points="62.4,360.6 62.5,368.4 62.5,376.2 62.7,384.0 65.2,391.8 64.2,399.6 65.2,407.4 64.4,415.2" fill="none" stroke="#8a8082" stroke-width="1.8" opacity="0.76" clip-path="url(#cBark)"/>
<polyline points="105.7,317.8 106.0,323.8 107.5,329.9 105.7,336.0 107.0,342.1 108.6,348.1 107.4,354.2 108.1,360.3" fill="none" stroke="#7a7072" stroke-width="1.7" opacity="0.55" clip-path="url(#cBark)"/>
<polyline points="133.9,317.3 136.0,324.7 137.4,332.0 136.3,339.4 137.9,346.7 137.7,354.1 136.1,361.4 136.6,368.8" fill="none" stroke="#7a7072" stroke-width="1.7" opacity="0.55" clip-path="url(#cBark)"/>
<polyline points="73.0,419.5 72.4,423.2 74.4,427.0 72.9,430.7 72.8,434.5 74.5,438.2 74.0,441.9 76.0,445.7" fill="none" stroke="#3e3638" stroke-width="1.1" opacity="0.72" clip-path="url(#cBark)"/>
<polyline points="64.1,316.8 64.0,320.0 63.9,323.3 63.4,326.5 64.9,329.8 63.2,333.1 66.1,336.3 64.9,339.6" fill="none" stroke="#3e3638" stroke-width="1.8" opacity="0.76" clip-path="url(#cBark)"/>
<polyline points="55.3,250.5 55.3,255.6 54.6,260.7 55.2,265.9 56.0,271.0 55.8,276.2 58.0,281.3 57.8,286.4" fill="none" stroke="#3e3638" stroke-width="1.5" opacity="0.63" clip-path="url(#cBark)"/>
<polyline points="120.7,269.7 119.5,277.5 121.9,285.2 119.6,293.0 121.5,300.8 120.5,308.6 121.2,316.4 122.9,324.2" fill="none" stroke="#3e3638" stroke-width="1.5" opacity="0.78" clip-path="url(#cBark)"/>
<polyline points="58.5,326.3 58.4,333.6 57.3,340.8 57.9,348.0 59.6,355.3 58.8,362.5 60.9,369.8 60.3,377.0" fill="none" stroke="#7a7072" stroke-width="1.5" opacity="0.53" clip-path="url(#cBark)"/>
<polyline points="96.0,373.0 93.9,377.4 96.9,381.9 95.9,386.3 96.8,390.7 96.5,395.1 97.5,399.5 96.4,403.9" fill="none" stroke="#8a8082" stroke-width="1.7" opacity="0.69" clip-path="url(#cBark)"/>
</g>
<ellipse cx="234" cy="240" rx="189" ry="78" fill="url(#gTopCyl)"/>
<ellipse cx="254" cy="243" rx="170.1" ry="70.2" fill="none" stroke="#d9ad75" stroke-width="2" opacity="0.35"/>
<ellipse cx="254" cy="243" rx="147.4" ry="60.8" fill="none" stroke="#d9ad75" stroke-width="2" opacity="0.25"/>
<ellipse cx="254" cy="243" rx="117.2" ry="48.4" fill="none" stroke="#d9ad75" stroke-width="2" opacity="0.25"/>
<ellipse cx="254" cy="243" rx="85.0" ry="35.1" fill="none" stroke="#d9ad75" stroke-width="2" opacity="0.2"/>
<path d="M46.5,242 A187.5,76.5 0 0 1 380,191.5" fill="none" stroke="#3a3436" stroke-width="4"/>
<path d="M392,194 L397,195.5 L405,201 L406.5,207 L402,206 L395,201 L392,200 Z" fill="#3a3436"/>
<ellipse cx="234" cy="240" rx="185" ry="74" fill="none" stroke="#f6e4c4" stroke-width="3" opacity="0.35"/>
<polygon points="74.5,151.5 322,178.5 323,413 74.5,386.5" fill="url(#gFront)"/>
<polygon points="322,178 392,78 392,310 323,413" fill="url(#gRight)"/>
<polygon points="74.5,279 322,307 323,413 74.5,386.5" fill="url(#gFrontLow)"/>
<polygon points="74.5,279 76,282.8 79,284.6 82,286.4 85,288.0 88,289.5 91,291.0 94,292.4 97,293.7 100,295.0 103,296.2 106,297.4 109,298.5 112,299.6 115,300.6 118,301.6 121,302.5 124,303.4 127,304.3 130,305.1 133,305.9 136,306.7 139,307.4 142,308.1 145,308.8 148,309.5 150.5,310.0 150,394.5 74.5,386.5" fill="#3f281b"/>
<polygon points="322,307 392,208 392,310 323,413" fill="url(#gRightLow)"/>
<polygon points="150,288.5 322,307 323,413 150,394.5" fill="url(#gLowShade)"/>
<polygon points="322,307 392,208 392,310 323,413" fill="url(#gLowShade2)"/>
<polygon points="150,309.9 150,288.5 322,307 150,309.9 154,310.7 158,311.4 162,312.1 166,312.8 170,313.4 174,314.0 178,314.5 182,315.0 186,315.4 190,315.9 194,316.2 198,316.6 202,316.9 206,317.1 210,317.4 214,317.6 218,317.7 222,317.8 226,317.9 230,318.0 234,318.0 238,318.0 242,317.9 246,317.8 250,317.7 254,317.6 258,317.4 262,317.1 266,316.9 270,316.6 274,316.2 278,315.9 282,315.4 286,315.0 290,314.5 294,314.0 298,313.4 302,312.8 306,312.1 310,311.4 314,310.7 318,309.9 322,309.0" fill="#d08a45" opacity="0.0"/>
<polyline points="150,308.9 154,309.7 158,310.4 162,311.1 166,311.8 170,312.4 174,313.0 178,313.5 182,314.0 186,314.4 190,314.9 194,315.2 198,315.6 202,315.9 206,316.1 210,316.4 214,316.6 218,316.7 222,316.8 226,316.9 230,317.0 234,317.0 238,317.0 242,316.9 246,316.8 250,316.7 254,316.6 258,316.4 262,316.1 266,315.9 270,315.6 274,315.2 278,314.9 282,314.4 286,314.0 290,313.5 294,313.0 298,312.4 302,311.8 306,311.1 310,310.4 314,309.7 318,308.9 322,308.0" fill="none" stroke="#dca060" stroke-width="2.2" opacity="0.35"/>
<polyline points="150,301.8 154,302.5 158,303.0 162,303.6 166,304.1 170,304.5 174,305.0 178,305.4 182,305.7 186,306.1 190,306.4 194,306.7 198,306.9 202,307.2 206,307.4 210,307.5 214,307.7 218,307.8 222,307.9 226,307.9 230,308.0 234,308.0 238,308.0 242,307.9 246,307.9 250,307.8 254,307.7 258,307.5 262,307.4 266,307.2 270,306.9 274,306.7 278,306.4 282,306.1 286,305.7 290,305.4 294,305.0 298,304.5 302,304.1 306,303.6 310,303.0 314,302.5 318,301.8 322,301.2" fill="none" stroke="#e0a868" stroke-width="1.6" opacity="0.18"/>
<polyline points="150,295.4 154,295.9 158,296.3 162,296.7 166,297.1 170,297.5 174,297.8 178,298.1 182,298.4 186,298.6 190,298.8 194,299.0 198,299.2 202,299.4 206,299.5 210,299.7 214,299.8 218,299.8 222,299.9 226,300.0 230,300.0 234,300.0 238,300.0 242,300.0 246,299.9 250,299.8 254,299.8 258,299.7 262,299.5 266,299.4 270,299.2 274,299.0 278,298.8 282,298.6 286,298.4 290,298.1 294,297.8 298,297.5 302,297.1 306,296.7 310,296.3 314,295.9 318,295.4 322,294.9" fill="none" stroke="#e0a868" stroke-width="1.6" opacity="0.15"/>
<polygon points="143,48 392,78 322,178.5 74.5,151.5" fill="url(#pPores)"/>
<ellipse cx="169.8" cy="57.7" rx="16.5" ry="8.2" fill="#f7d27a"/>
<ellipse cx="158.3" cy="76.6" rx="20.200000000000003" ry="10.1" fill="#f7d27a"/>
<ellipse cx="210" cy="71" rx="22.6" ry="8.5" fill="#f7d27a"/>
<ellipse cx="263.7" cy="71.6" rx="22.6" ry="9.1" fill="#f7d27a"/>
<ellipse cx="311.7" cy="79.7" rx="20.8" ry="8.5" fill="#f7d27a"/>
<ellipse cx="358.8" cy="86.5" rx="19.6" ry="10.1" fill="#f7d27a"/>
<ellipse cx="139.7" cy="98.9" rx="22.6" ry="9.1" fill="#f7d27a"/>
<ellipse cx="193.3" cy="93.3" rx="16.5" ry="9.4" fill="#f7d27a"/>
<ellipse cx="248.2" cy="91.1" rx="18.6" ry="7.6" fill="#f7d27a"/>
<ellipse cx="295.6" cy="102.6" rx="19.6" ry="8.2" fill="#f7d27a"/>
<ellipse cx="348.3" cy="108.2" rx="21.6" ry="8.2" fill="#f7d27a"/>
<ellipse cx="176.9" cy="112.5" rx="15.6" ry="7.0" fill="#f7d27a"/>
<ellipse cx="229.6" cy="107.2" rx="23.900000000000002" ry="9.1" fill="#f7d27a"/>
<ellipse cx="277" cy="120" rx="25.6" ry="8.5" fill="#f7d27a"/>
<ellipse cx="328.7" cy="129.9" rx="20.8" ry="8.2" fill="#f7d27a"/>
<ellipse cx="125.2" cy="121.2" rx="20.200000000000003" ry="9.8" fill="#f7d27a"/>
<ellipse cx="163" cy="130.5" rx="19.6" ry="8.5" fill="#f7d27a"/>
<ellipse cx="217.2" cy="131.7" rx="20.8" ry="8.8" fill="#f7d27a"/>
<ellipse cx="264.6" cy="140.7" rx="22.6" ry="8.5" fill="#f7d27a"/>
<ellipse cx="316.4" cy="148.5" rx="23.3" ry="8.2" fill="#f7d27a"/>
<ellipse cx="110.3" cy="141.3" rx="17.1" ry="8.2" fill="#f7d27a"/>
<ellipse cx="144.4" cy="145.4" rx="19.0" ry="8.2" fill="#f7d27a"/>
<ellipse cx="200.2" cy="151.6" rx="21.6" ry="8.8" fill="#f7d27a"/>
<ellipse cx="252.2" cy="158.7" rx="20.200000000000003" ry="7.9" fill="#f7d27a"/>
<ellipse cx="299.3" cy="167" rx="14.6" ry="7.9" fill="#f7d27a"/>
<ellipse cx="169.8" cy="57.7" rx="14.9" ry="6.8" fill="url(#gPore)"/>
<ellipse cx="158.3" cy="76.6" rx="18.6" ry="8.7" fill="url(#gPore)"/>
<ellipse cx="210" cy="71" rx="21" ry="7.1" fill="url(#gPore)"/>
<ellipse cx="263.7" cy="71.6" rx="21" ry="7.7" fill="url(#gPore)"/>
<ellipse cx="311.7" cy="79.7" rx="19.2" ry="7.1" fill="url(#gPore)"/>
<ellipse cx="358.8" cy="86.5" rx="18" ry="8.7" fill="url(#gPore)"/>
<ellipse cx="139.7" cy="98.9" rx="21" ry="7.7" fill="url(#gPore)"/>
<ellipse cx="193.3" cy="93.3" rx="14.9" ry="8" fill="url(#gPore)"/>
<ellipse cx="248.2" cy="91.1" rx="17" ry="6.2" fill="url(#gPore)"/>
<ellipse cx="295.6" cy="102.6" rx="18" ry="6.8" fill="url(#gPore)"/>
<ellipse cx="348.3" cy="108.2" rx="20" ry="6.8" fill="url(#gPore)"/>
<ellipse cx="176.9" cy="112.5" rx="14" ry="5.6" fill="url(#gPore)"/>
<ellipse cx="229.6" cy="107.2" rx="22.3" ry="7.7" fill="url(#gPore)"/>
<ellipse cx="277" cy="120" rx="24" ry="7.1" fill="url(#gPore)"/>
<ellipse cx="328.7" cy="129.9" rx="19.2" ry="6.8" fill="url(#gPore)"/>
<ellipse cx="125.2" cy="121.2" rx="18.6" ry="8.4" fill="url(#gPore)"/>
<ellipse cx="163" cy="130.5" rx="18" ry="7.1" fill="url(#gPore)"/>
<ellipse cx="217.2" cy="131.7" rx="19.2" ry="7.4" fill="url(#gPore)"/>
<ellipse cx="264.6" cy="140.7" rx="21" ry="7.1" fill="url(#gPore)"/>
<ellipse cx="316.4" cy="148.5" rx="21.7" ry="6.8" fill="url(#gPore)"/>
<ellipse cx="110.3" cy="141.3" rx="15.5" ry="6.8" fill="url(#gPore)"/>
<ellipse cx="144.4" cy="145.4" rx="17.4" ry="6.8" fill="url(#gPore)"/>
<ellipse cx="200.2" cy="151.6" rx="20" ry="7.4" fill="url(#gPore)"/>
<ellipse cx="252.2" cy="158.7" rx="18.6" ry="6.5" fill="url(#gPore)"/>
<ellipse cx="299.3" cy="167" rx="13" ry="6.5" fill="url(#gPore)"/>
<line x1="64.6" y1="141.3" x2="128.4" y2="50.7" stroke="#2ea66c" stroke-width="2.0"/><polygon points="131,47 129.5,56.9 127.3,52.3 122.1,51.8" fill="#2ea66c"/><polygon points="62,145 70.9,140.2 65.7,139.7 63.5,135.1" fill="#2ea66c"/>
<path d="M444.8,243.8 L577.7,243.8 L577.7,227.3 L637.5,252.6 L577.7,278.5 L577.7,263.4 L444.8,263.4 Z" fill="url(#gArrow)"/>
<text x="435.4" y="219.3" font-family="Liberation Sans, sans-serif" font-size="20.97" fill="#231f20" stroke="#231f20" stroke-width="0.55">1. Chemical treatment</text>
<text x="469.6" y="300.9" font-family="Liberation Sans, sans-serif" font-size="21.25" fill="#231f20" stroke="#231f20" stroke-width="0.55">2. Densification</text>
<polygon points="923,159.5 945,124.5 945,398 922.8,421" fill="url(#gDRight)"/>
<polygon points="663.7,130.7 923,159.5 922.8,421 663,393.5" fill="url(#gDFront)"/>
<polygon points="663.7,130.7 685.6,95.5 945,124.5 923,159.5" fill="url(#gTopD)"/>
<line x1="724.7" y1="137.5" x2="724.7" y2="400.0" stroke="#8a5a34" stroke-width="1.2" opacity="0.5"/>
<line x1="770" y1="142.5" x2="770" y2="404.8" stroke="#8a5a34" stroke-width="1.2" opacity="0.35"/>
<line x1="853" y1="151.7" x2="853" y2="413.6" stroke="#8a5a34" stroke-width="1.2" opacity="0.4"/>
<line x1="690" y1="133.6" x2="690" y2="396.3" stroke="#8a5a34" stroke-width="1.2" opacity="0.25"/>
<line x1="664.6" y1="128.6" x2="923.6" y2="158.8" stroke="#f0a874" stroke-width="1.6" opacity="0.75"/>
<line x1="666.4" y1="125.7" x2="925.4" y2="156.3" stroke="#d9773e" stroke-width="1.6" opacity="0.75"/>
<line x1="668.3" y1="122.8" x2="927.3" y2="150.2" stroke="#f0a874" stroke-width="2.1" opacity="0.75"/>
<line x1="670.1" y1="120.3" x2="929.1" y2="147.8" stroke="#d9773e" stroke-width="2.1" opacity="0.75"/>
<line x1="671.9" y1="117.9" x2="930.9" y2="146.0" stroke="#e08a50" stroke-width="1.7" opacity="0.75"/>
<line x1="673.7" y1="113.6" x2="932.7" y2="142.7" stroke="#e08a50" stroke-width="1.8" opacity="0.75"/>
<line x1="675.6" y1="111.9" x2="934.6" y2="142.2" stroke="#f5bb8c" stroke-width="1.2" opacity="0.75"/>
<line x1="677.4" y1="109.3" x2="936.4" y2="136.0" stroke="#f5bb8c" stroke-width="1.5" opacity="0.75"/>
<line x1="679.2" y1="105.9" x2="938.2" y2="133.9" stroke="#e08a50" stroke-width="1.2" opacity="0.75"/>
<line x1="681.0" y1="103.2" x2="940.0" y2="131.5" stroke="#d9773e" stroke-width="1.1" opacity="0.75"/>
<line x1="682.9" y1="99.3" x2="941.9" y2="129.4" stroke="#f5bb8c" stroke-width="1.1" opacity="0.75"/>
<line x1="684.7" y1="96.9" x2="943.7" y2="127.1" stroke="#d9773e" stroke-width="1.4" opacity="0.75"/>
<line x1="676" y1="110" x2="935" y2="139" stroke="#c06a34" stroke-width="1.6" opacity="0.8"/>
<line x1="652.1" y1="124.5" x2="675.1" y2="93.8" stroke="#2ea66c" stroke-width="2"/><polygon points="677.2,91 676.2,99.0 674.2,95.0 669.8,94.2" fill="#2ea66c"/><polygon points="650,127.3 657.4,124.1 653.0,123.3 651.0,119.3" fill="#2ea66c"/>
<g clip-path="url(#cCircle)">
<rect x="790" y="45" width="250" height="250" fill="#ffffff"/>
<polygon points="780,184 932,186 932,300 780,300" fill="url(#gCFront)"/>
<polygon points="924,186 926,120 972,97 983,100 984,300 924,300" fill="url(#gCRight)"/>
<rect x="929.0" y="100" width="1.9" height="200" fill="#7a5228" opacity="0.44"/>
<rect x="935.3" y="100" width="1.4" height="200" fill="#7a5228" opacity="0.45"/>
<rect x="941.8" y="100" width="2.4" height="200" fill="#7a5228" opacity="0.31"/>
<rect x="947.4" y="100" width="1.9" height="200" fill="#7a5228" opacity="0.40"/>
<rect x="954.3" y="100" width="1.8" height="200" fill="#7a5228" opacity="0.38"/>
<rect x="961.1" y="100" width="2.0" height="200" fill="#7a5228" opacity="0.34"/>
<rect x="965.3" y="100" width="1.7" height="200" fill="#7a5228" opacity="0.27"/>
<rect x="970.7" y="100" width="2.1" height="200" fill="#7a5228" opacity="0.38"/>
<rect x="977.1" y="100" width="2.4" height="200" fill="#7a5228" opacity="0.42"/>
<clipPath id="cTopIn"><path d="M780,150 L795,127 Q820,90 842,81 L970,95 C982,94 982,99 982,103 C982,108 979,111.5 972,111.5 L965,111.5 C971,111.5 971,116 971,120 C971,125 968,128.5 961,128.5 L954,128.5 C960,128.5 960,133 960,137 C960,142 957,145.5 950,145.5 L943,145.5 C949,145.5 949,150 949,154 C949,159 946,162.5 939,162.5 L930,162.5 C936,162.5 936,167 936,171 C936,179 932,185 924,185.5 L780,186 Z"/></clipPath>
<path d="M780,150 L795,127 Q820,90 842,81 L970,95 C982,94 982,99 982,103 C982,108 979,111.5 972,111.5 L965,111.5 C971,111.5 971,116 971,120 C971,125 968,128.5 961,128.5 L954,128.5 C960,128.5 960,133 960,137 C960,142 957,145.5 950,145.5 L943,145.5 C949,145.5 949,150 949,154 C949,159 946,162.5 939,162.5 L930,162.5 C936,162.5 936,167 936,171 C936,179 932,185 924,185.5 L780,186 Z" fill="#eba66c"/>
<g clip-path="url(#cTopIn)">
<path d="M785,87.9 Q852,79.4 900,84.9 T990,91.9" fill="none" stroke="#f7c690" stroke-width="5.4" opacity="0.55"/>
<path d="M785,102.0 Q839,95.8 900,99.0 T990,106.0" fill="none" stroke="#f7c690" stroke-width="3.7" opacity="0.55"/>
<path d="M785,116.0 Q830,112.6 900,113.0 T990,120.0" fill="none" stroke="#f7c690" stroke-width="5.5" opacity="0.55"/>
<path d="M785,123.0 Q824,118.2 900,120.0 T990,127.0" fill="none" stroke="#f7c690" stroke-width="4.3" opacity="0.55"/>
<path d="M785,138.4 Q839,138.2 900,135.4 T990,142.4" fill="none" stroke="#f7c690" stroke-width="3.3" opacity="0.55"/>
<path d="M785,151.0 Q858,149.0 900,148.0 T990,155.0" fill="none" stroke="#f7c690" stroke-width="3.8" opacity="0.55"/>
<path d="M785,163.6 Q876,154.5 900,160.6 T990,167.6" fill="none" stroke="#f7c690" stroke-width="3.4" opacity="0.55"/>
<path d="M785,176.5 Q830,169.7 900,173.5 T990,180.5" fill="none" stroke="#f7c690" stroke-width="3.4" opacity="0.55"/>
<path d="M785,183.2 Q851,179.1 900,180.2 T990,187.2" fill="none" stroke="#f7c690" stroke-width="3.6" opacity="0.55"/>
<path d="M785,93.3 Q823,87.7 861,88.3 T990,94.3" fill="none" stroke="#cc6a30" stroke-width="1.1" opacity="0.8"/>
<path d="M785,96.9 Q827,92.7 866,91.9 T990,97.9" fill="none" stroke="#d8783c" stroke-width="1.1" opacity="0.8"/>
<path d="M785,102.3 Q852,89.9 872,97.3 T990,103.3" fill="none" stroke="#cc6a30" stroke-width="1.3" opacity="0.8"/>
<path d="M785,106.5 Q827,97.4 895,101.5 T990,107.5" fill="none" stroke="#e08848" stroke-width="1.6" opacity="0.8"/>
<path d="M785,113.9 Q839,103.5 898,108.9 T990,114.9" fill="none" stroke="#e58f50" stroke-width="1.5" opacity="0.8"/>
<path d="M785,118.4 Q863,114.4 875,113.4 T990,119.4" fill="none" stroke="#e08848" stroke-width="1.5" opacity="0.8"/>
<path d="M785,124.1 Q836,116.9 894,119.1 T990,125.1" fill="none" stroke="#cc6a30" stroke-width="0.8" opacity="0.8"/>
<path d="M785,129.4 Q822,123.6 875,124.4 T990,130.4" fill="none" stroke="#e08848" stroke-width="1.6" opacity="0.8"/>
<path d="M785,133.0 Q845,126.4 894,128.0 T990,134.0" fill="none" stroke="#e58f50" stroke-width="1.1" opacity="0.8"/>
<path d="M785,140.2 Q853,135.4 866,135.2 T990,141.2" fill="none" stroke="#e08848" stroke-width="0.8" opacity="0.8"/>
<path d="M785,143.8 Q816,135.3 866,138.8 T990,144.8" fill="none" stroke="#d8783c" stroke-width="1.3" opacity="0.8"/>
<path d="M785,149.2 Q842,139.4 880,144.2 T990,150.2" fill="none" stroke="#e08848" stroke-width="1.3" opacity="0.8"/>
<path d="M785,154.6 Q858,143.7 890,149.6 T990,155.6" fill="none" stroke="#d8783c" stroke-width="1.2" opacity="0.8"/>
<path d="M785,160.9 Q852,148.5 897,155.9 T990,161.9" fill="none" stroke="#f9cf9a" stroke-width="1.1" opacity="0.8"/>
<path d="M785,164.9 Q853,153.6 888,159.9 T990,165.9" fill="none" stroke="#cc6a30" stroke-width="1.6" opacity="0.8"/>
<path d="M785,171.8 Q852,161.3 866,166.8 T990,172.8" fill="none" stroke="#cc6a30" stroke-width="1.4" opacity="0.8"/>
<path d="M785,177.7 Q840,170.4 882,172.7 T990,178.7" fill="none" stroke="#d8783c" stroke-width="1.2" opacity="0.8"/>
<path d="M785,182.8 Q863,172.9 888,177.8 T990,183.8" fill="none" stroke="#e58f50" stroke-width="1.4" opacity="0.8"/>
<path d="M785,186.5 Q846,176.7 868,181.5 T990,187.5" fill="none" stroke="#d8783c" stroke-width="1.0" opacity="0.8"/>
<path d="M785,194.2 Q820,181.9 863,189.2 T990,195.2" fill="none" stroke="#f9cf9a" stroke-width="1.2" opacity="0.8"/>
<path d="M785,105.0 Q880,106.0 972,111.5 C979,111.5 982,108 982,103" fill="none" stroke="#c8672e" stroke-width="1.3" opacity="0.8"/>
<path d="M785,122.0 Q880,123.0 961,128.5 C968,128.5 971,125 971,120" fill="none" stroke="#c8672e" stroke-width="1.3" opacity="0.8"/>
<path d="M785,139.0 Q880,140.0 950,145.5 C957,145.5 960,142 960,137" fill="none" stroke="#c8672e" stroke-width="1.3" opacity="0.8"/>
<path d="M785,156.0 Q880,157.0 939,162.5 C946,162.5 949,159 949,154" fill="none" stroke="#c8672e" stroke-width="1.3" opacity="0.8"/>
<path d="M813,150 q-12,5 -5,13 q8,6 22,1" fill="none" stroke="#c9682f" stroke-width="1.3"/>
<path d="M830,168 q-8,4 -2,9 q6,3 16,0" fill="none" stroke="#c9682f" stroke-width="1.1"/>
</g>
<path d="M780,150 L795,127 Q820,90 842,81 L970,95 C982,94 982,99 982,103 C982,108 979,111.5 972,111.5 L965,111.5 C971,111.5 971,116 971,120 C971,125 968,128.5 961,128.5 L954,128.5 C960,128.5 960,133 960,137 C960,142 957,145.5 950,145.5 L943,145.5 C949,145.5 949,150 949,154 C949,159 946,162.5 939,162.5 L930,162.5 C936,162.5 936,167 936,171 C936,179 932,185 924,185.5 L780,186 Z" fill="none" stroke="#c87a40" stroke-width="0.8" opacity="0.6"/>
</g>
<circle cx="913" cy="167" r="117" fill="none" stroke="#111" stroke-width="2.8"/>
<g transform="rotate(4 675.5 284.6)"><text x="675.5" y="284.6" font-family="Liberation Sans, sans-serif" font-size="20.6" fill="#2a201a" stroke="#2a201a" stroke-width="0.55">11.5× increase in strength</text></g>
<g transform="rotate(4 675.5 321.4)"><text x="675.5" y="321.4" font-family="Liberation Sans, sans-serif" font-size="20.4" fill="#2a201a" stroke="#2a201a" stroke-width="0.55">10× increase in toughness</text></g>
<path d="M681.5,395.0 L681.9,398.8 L682.3,402.7 L682.8,406.5 L683.3,410.4 L684.0,414.2 L684.8,417.9 L685.7,421.7 L687.1,425.3 L689.4,428.4 L692.2,431.0 L695.4,433.2 L698.9,435.0 L702.5,436.3 L706.2,437.3 L710.0,438.0 L713.9,438.4 L717.7,438.6 L721.6,438.6 L725.5,438.5 L729.3,438.2 L733.2,437.9 L737.0,437.4 L740.8,436.8 L744.6,436.1 L748.4,435.3 L752.2,434.6 L756.0,433.8 L759.8,433.1 L763.6,432.4 L767.4,431.7 L771.2,431.2 L775.1,430.6 L778.9,430.2 L782.8,429.9 L786.6,429.6 L790.5,429.3 L794.3,429.0 L798.2,428.7 L802.0,428.4 L805.9,428.2 L809.8,428.0 L813.6,427.8 L817.5,427.6 L821.3,427.6 L825.2,427.5 L829.1,427.6 L832.9,427.7 L836.8,427.9 L840.7,428.2 L844.5,428.6 L848.3,429.2 L852.1,430.0 L855.9,430.9 L859.6,431.9 L863.3,433.0 L866.9,434.3 L870.5,435.7 L874.1,437.3 L877.6,438.9 L881.1,440.6 L884.5,442.4 L887.9,444.2 L891.3,446.1 L894.7,448.0 L898.0,449.9 L901.3,451.9 L904.6,454.0 L907.7,456.2 L910.9,458.4 L914.0,460.7 L917.1,463.0 L920.2,465.4 L923.3,467.7 L926.3,470.1 L929.3,472.5 L932.4,474.9 L935.4,477.3 L938.5,479.6 L941.6,482.0 L944.7,484.2 L947.9,486.4 L951.1,488.6 L954.3,490.7 L957.6,492.8 L960.8,494.9 L964.1,496.9 L967.4,499.0 L970.7,501.0 L974.0,503.0 L921.7,535.6 L919.9,532.4 L918.2,529.1 L916.6,525.9 L914.9,522.6 L913.2,519.4 L911.4,516.2 L909.5,513.1 L907.6,509.9 L905.6,506.9 L903.4,504.0 L901.0,501.1 L898.5,498.5 L895.9,495.9 L893.2,493.5 L890.4,491.1 L887.5,488.9 L884.5,486.7 L881.5,484.6 L878.4,482.7 L875.3,480.8 L872.1,479.1 L868.8,477.4 L865.5,475.8 L862.1,474.4 L858.7,473.0 L855.3,471.7 L851.8,470.5 L848.4,469.4 L844.8,468.4 L841.3,467.4 L837.8,466.5 L834.2,465.7 L830.6,465.0 L827.0,464.4 L823.4,463.9 L819.7,463.4 L816.1,463.1 L812.4,463.0 L808.8,463.0 L805.1,463.2 L801.5,463.5 L797.8,464.0 L794.2,464.5 L790.6,465.1 L787.0,465.8 L783.4,466.4 L779.8,467.1 L776.2,467.7 L772.6,468.3 L768.9,468.8 L765.3,469.2 L761.7,469.4 L758.0,469.5 L754.3,469.5 L750.7,469.5 L747.0,469.3 L743.4,469.1 L739.7,468.9 L736.1,468.6 L732.4,468.3 L728.8,467.9 L725.1,467.4 L721.5,466.8 L717.9,466.2 L714.3,465.5 L710.8,464.7 L707.3,463.6 L703.9,462.2 L700.7,460.4 L697.7,458.2 L695.0,455.8 L692.3,453.3 L689.7,450.7 L687.4,447.9 L685.3,444.9 L683.6,441.6 L682.1,438.3 L680.9,434.9 L679.9,431.3 L679.1,427.8 L678.4,424.2 L677.9,420.5 L677.4,416.9 L677.0,413.3 L676.7,409.6 L676.5,406.0 L676.3,402.3 L676.2,398.7 L676.0,395.0 Z" fill="#62431a"/>
<path d="M681.4,395.0 L681.8,398.8 L682.2,402.7 L682.7,406.5 L683.2,410.3 L683.9,414.1 L684.7,417.9 L685.6,421.7 L687.0,425.3 L689.2,428.4 L692.1,431.0 L695.2,433.2 L698.6,435.0 L702.2,436.4 L705.9,437.4 L709.7,438.1 L713.5,438.6 L717.4,438.8 L721.2,438.9 L725.1,438.8 L728.9,438.5 L732.7,438.2 L736.6,437.8 L740.4,437.2 L744.2,436.5 L748.0,435.8 L751.8,435.0 L755.6,434.3 L759.3,433.6 L763.1,432.9 L767.0,432.3 L770.8,431.7 L774.6,431.2 L778.4,430.8 L782.3,430.5 L786.2,430.2 L790.0,429.9 L793.9,429.6 L797.7,429.3 L801.6,429.0 L805.4,428.7 L809.3,428.5 L813.1,428.3 L817.0,428.2 L820.9,428.1 L824.7,428.1 L828.6,428.1 L832.4,428.2 L836.3,428.4 L840.1,428.7 L844.0,429.1 L847.8,429.7 L851.6,430.4 L855.4,431.3 L859.1,432.3 L862.8,433.5 L866.4,434.8 L870.0,436.2 L873.6,437.7 L877.1,439.3 L880.5,441.0 L884.0,442.8 L887.4,444.6 L890.8,446.4 L894.1,448.3 L897.5,450.2 L900.8,452.2 L904.0,454.3 L907.2,456.5 L910.4,458.7 L913.5,461.0 L916.6,463.3 L919.7,465.7 L922.7,468.0 L925.8,470.4 L928.8,472.8 L931.9,475.2 L934.9,477.6 L938.0,479.9 L941.0,482.3 L944.2,484.5 L947.3,486.8 L950.5,489.0 L953.7,491.1 L956.9,493.2 L960.2,495.3 L963.4,497.4 L966.7,499.4 L970.0,501.4 L973.3,503.5 L967.6,507.0 L964.5,504.8 L961.4,502.7 L958.3,500.5 L955.2,498.3 L952.1,496.1 L949.0,493.9 L946.0,491.6 L942.9,489.3 L939.9,487.0 L936.9,484.7 L933.9,482.3 L930.9,479.9 L927.9,477.5 L924.9,475.1 L921.9,472.7 L918.9,470.3 L915.8,468.0 L912.7,465.7 L909.7,463.4 L906.5,461.2 L903.4,459.0 L900.2,456.9 L896.9,454.8 L893.6,452.9 L890.2,451.0 L886.9,449.2 L883.5,447.4 L880.1,445.7 L876.6,444.0 L873.1,442.4 L869.6,440.9 L866.1,439.4 L862.5,438.1 L858.8,436.9 L855.1,435.8 L851.4,434.9 L847.7,434.0 L843.9,433.4 L840.1,432.8 L836.3,432.5 L832.5,432.3 L828.6,432.1 L824.8,432.1 L821.0,432.1 L817.1,432.2 L813.3,432.4 L809.5,432.6 L805.6,432.8 L801.8,433.1 L798.0,433.4 L794.1,433.7 L790.3,433.9 L786.5,434.2 L782.6,434.5 L778.8,434.8 L775.0,435.0 L771.2,435.4 L767.4,435.8 L763.6,436.3 L759.8,436.8 L756.0,437.3 L752.2,437.9 L748.4,438.5 L744.7,439.1 L740.9,439.7 L737.1,440.2 L733.3,440.6 L729.6,440.9 L725.8,440.9 L722.0,440.9 L718.3,440.7 L714.6,440.4 L710.9,439.9 L707.2,439.2 L703.7,438.2 L700.2,437.0 L696.8,435.4 L693.6,433.4 L690.7,431.0 L688.1,428.3 L686.0,425.2 L684.7,421.6 L683.9,417.8 L683.2,414.0 L682.5,410.3 L682.0,406.5 L681.6,402.6 L681.2,398.8 L680.8,395.0 Z" fill="#e6bc6a"/>
<polyline points="686.7,425.3 688.9,428.4 691.7,431.0 694.8,433.3 698.1,435.1 701.7,436.5 705.3,437.6 709.1,438.4 712.8,438.9 716.6,439.2 720.5,439.4 724.3,439.3 728.1,439.2 731.9,438.9 735.7,438.5 739.5,438.0 743.3,437.3 747.1,436.6 750.9,435.9 754.7,435.2 758.5,434.6 762.3,433.9 766.1,433.3 769.9,432.8 773.7,432.3 777.5,431.9 781.4,431.6 785.2,431.3 789.1,431.0 792.9,430.7 796.8,430.4 800.6,430.2 804.5,429.9 808.3,429.7 812.2,429.5 816.0,429.3 819.9,429.2 823.7,429.1 827.6,429.1 831.4,429.2 835.3,429.4 839.1,429.7 843.0,430.1 846.8,430.7 850.6,431.4 854.3,432.3 858.0,433.3 861.7,434.4 865.4,435.7 869.0,437.0 872.5,438.5 876.0,440.1 879.5,441.8 882.9,443.5 886.4,445.3 889.7,447.2 893.1,449.0 896.5,450.9 899.8,452.9 903.0,455.0 906.2,457.2 909.4,459.4 912.5,461.6 915.6,463.9 918.7,466.3 921.7,468.6 924.8,471.0 927.8,473.4 930.8,475.8 933.9,478.2 936.9,480.5 939.9,482.9 943.0,485.2 946.2,487.4 949.3,489.7 952.5,491.8 955.7,494.0 958.9,496.1 962.1,498.2 965.3,500.3 968.5,502.3 971.8,504.4" fill="none" stroke="#f0cc80" stroke-width="1" opacity="0.7"/>
<path d="M680.6,395.0 L681.0,398.8 L681.4,402.6 L681.8,406.4 L682.3,410.2 L682.9,414.0 L683.6,417.8 L684.5,421.5 L685.7,425.1 L687.8,428.3 L690.3,431.1 L693.1,433.5 L696.2,435.5 L699.5,437.1 L702.9,438.5 L706.5,439.5 L710.1,440.3 L713.7,440.9 L717.4,441.3 L721.1,441.6 L724.8,441.7 L728.6,441.7 L732.3,441.5 L736.1,441.1 L739.9,440.7 L743.6,440.2 L747.4,439.6 L751.1,439.1 L754.9,438.5 L758.7,438.0 L762.5,437.5 L766.3,437.1 L770.1,436.7 L773.9,436.4 L777.7,436.1 L781.5,435.9 L785.4,435.6 L789.2,435.3 L793.0,435.1 L796.8,434.8 L800.7,434.5 L804.5,434.2 L808.3,434.0 L812.1,433.7 L815.9,433.6 L819.8,433.4 L823.6,433.4 L827.4,433.4 L831.2,433.5 L835.1,433.7 L838.9,434.0 L842.7,434.5 L846.4,435.2 L850.2,436.0 L853.9,436.9 L857.6,438.0 L861.2,439.2 L864.8,440.5 L868.4,441.9 L871.9,443.4 L875.4,445.0 L878.8,446.6 L882.2,448.3 L885.6,450.1 L889.0,451.9 L892.4,453.7 L895.7,455.7 L898.9,457.7 L902.1,459.8 L905.3,461.9 L908.4,464.2 L911.5,466.4 L914.6,468.7 L917.6,471.1 L920.7,473.4 L923.7,475.8 L926.7,478.2 L929.6,480.6 L932.6,483.0 L935.6,485.4 L938.6,487.8 L941.5,490.1 L944.6,492.4 L947.6,494.7 L950.6,497.0 L953.6,499.3 L956.6,501.5 L959.7,503.7 L962.7,505.9 L965.8,508.1 L960.1,511.7 L957.2,509.3 L954.3,507.0 L951.5,504.6 L948.6,502.3 L945.8,499.9 L942.9,497.5 L940.0,495.1 L937.2,492.7 L934.3,490.3 L931.4,487.8 L928.5,485.3 L925.6,482.9 L922.7,480.5 L919.7,478.1 L916.8,475.7 L913.8,473.3 L910.7,471.0 L907.7,468.8 L904.6,466.5 L901.4,464.4 L898.3,462.3 L895.1,460.2 L891.8,458.3 L888.5,456.4 L885.1,454.6 L881.7,452.9 L878.3,451.2 L874.9,449.6 L871.4,448.0 L868.0,446.5 L864.4,445.0 L860.9,443.7 L857.3,442.5 L853.6,441.4 L850.0,440.4 L846.3,439.5 L842.5,438.8 L838.8,438.2 L835.0,437.8 L831.2,437.5 L827.4,437.3 L823.6,437.3 L819.8,437.4 L816.0,437.5 L812.2,437.7 L808.4,437.9 L804.6,438.2 L800.8,438.5 L797.0,438.8 L793.2,439.2 L789.4,439.5 L785.6,439.7 L781.8,440.0 L778.0,440.2 L774.2,440.4 L770.4,440.6 L766.6,440.9 L762.9,441.2 L759.1,441.5 L755.3,441.9 L751.5,442.3 L747.8,442.7 L744.0,443.1 L740.3,443.5 L736.6,443.9 L732.8,444.2 L729.1,444.3 L725.4,444.3 L721.7,444.1 L718.1,443.7 L714.5,443.2 L711.0,442.5 L707.4,441.7 L704.0,440.6 L700.7,439.3 L697.5,437.7 L694.4,435.8 L691.6,433.6 L689.0,431.1 L686.6,428.2 L684.8,425.0 L683.6,421.4 L682.8,417.7 L682.2,413.9 L681.6,410.2 L681.1,406.4 L680.7,402.6 L680.4,398.8 L680.0,395.0 Z" fill="#ddb05a"/>
<polyline points="685.5,425.1 687.5,428.3 689.9,431.1 692.7,433.5 695.7,435.6 699.0,437.3 702.3,438.7 705.8,439.8 709.4,440.7 713.0,441.3 716.7,441.8 720.3,442.1 724.0,442.3 727.7,442.4 731.5,442.2 735.2,441.9 739.0,441.5 742.7,441.1 746.5,440.6 750.3,440.0 754.0,439.5 757.8,439.0 761.6,438.6 765.4,438.2 769.2,437.8 773.0,437.5 776.8,437.2 780.6,437.0 784.4,436.8 788.3,436.5 792.1,436.2 795.9,435.9 799.7,435.6 803.5,435.3 807.3,435.1 811.1,434.8 815.0,434.6 818.8,434.5 822.6,434.4 826.4,434.4 830.2,434.5 834.1,434.7 837.9,435.0 841.6,435.5 845.4,436.1 849.2,436.9 852.9,437.8 856.5,438.9 860.2,440.0 863.8,441.3 867.3,442.7 870.9,444.2 874.3,445.8 877.8,447.4 881.2,449.1 884.6,450.8 888.0,452.6 891.3,454.4 894.7,456.3 897.9,458.4 901.1,460.4 904.3,462.6 907.4,464.8 910.5,467.0 913.6,469.3 916.6,471.7 919.6,474.0 922.6,476.4 925.6,478.8 928.6,481.2 931.5,483.6 934.5,486.0 937.4,488.4 940.4,490.8 943.4,493.1 946.3,495.5 949.3,497.8 952.3,500.1 955.3,502.3 958.3,504.6 961.3,506.8 964.3,509.1" fill="none" stroke="#f0cc80" stroke-width="1" opacity="0.7"/>
<path d="M679.9,395.0 L680.2,398.8 L680.5,402.6 L680.9,406.4 L681.3,410.1 L681.9,413.9 L682.6,417.6 L683.3,421.4 L684.5,425.0 L686.3,428.2 L688.5,431.1 L691.1,433.7 L693.8,436.0 L696.8,437.9 L700.0,439.6 L703.2,440.9 L706.6,442.1 L710.1,443.0 L713.6,443.8 L717.1,444.4 L720.7,444.9 L724.4,445.2 L728.1,445.2 L731.8,445.1 L735.5,444.9 L739.3,444.6 L743.0,444.2 L746.7,443.9 L750.5,443.5 L754.2,443.1 L758.0,442.8 L761.8,442.5 L765.5,442.2 L769.3,442.0 L773.1,441.8 L776.9,441.6 L780.7,441.4 L784.5,441.1 L788.3,440.8 L792.1,440.5 L795.9,440.2 L799.7,439.9 L803.5,439.6 L807.3,439.3 L811.0,439.0 L814.8,438.8 L818.6,438.6 L822.4,438.6 L826.2,438.6 L830.0,438.7 L833.8,438.9 L837.5,439.4 L841.3,439.9 L845.0,440.6 L848.7,441.5 L852.4,442.4 L856.0,443.5 L859.6,444.7 L863.2,446.0 L866.7,447.4 L870.2,448.9 L873.7,450.5 L877.1,452.1 L880.5,453.8 L883.9,455.5 L887.2,457.2 L890.6,459.1 L893.8,461.0 L897.0,463.0 L900.2,465.1 L903.3,467.3 L906.4,469.5 L909.5,471.8 L912.5,474.1 L915.5,476.4 L918.5,478.8 L921.4,481.2 L924.4,483.6 L927.3,486.1 L930.1,488.6 L933.0,491.0 L935.8,493.5 L938.6,495.9 L941.4,498.4 L944.2,500.8 L947.0,503.2 L949.8,505.6 L952.7,508.0 L955.5,510.4 L958.3,512.8 L952.6,516.3 L950.0,513.8 L947.3,511.3 L944.7,508.8 L942.1,506.2 L939.4,503.7 L936.8,501.1 L934.1,498.6 L931.4,496.0 L928.7,493.5 L926.0,490.9 L923.2,488.4 L920.4,485.9 L917.5,483.5 L914.6,481.1 L911.6,478.7 L908.6,476.4 L905.6,474.1 L902.6,471.9 L899.5,469.7 L896.3,467.6 L893.2,465.5 L889.9,463.6 L886.7,461.7 L883.4,459.9 L880.0,458.2 L876.6,456.6 L873.2,455.0 L869.7,453.4 L866.3,451.9 L862.8,450.5 L859.2,449.2 L855.7,448.0 L852.1,446.9 L848.5,445.8 L844.8,445.0 L841.1,444.2 L837.4,443.5 L833.6,443.0 L829.9,442.7 L826.1,442.5 L822.4,442.4 L818.6,442.5 L814.8,442.7 L811.1,442.9 L807.3,443.2 L803.6,443.5 L799.8,443.8 L796.0,444.2 L792.3,444.6 L788.5,444.9 L784.7,445.2 L781.0,445.5 L777.2,445.7 L773.4,445.9 L769.6,446.1 L765.9,446.2 L762.1,446.4 L758.3,446.6 L754.6,446.8 L750.9,447.0 L747.1,447.3 L743.4,447.5 L739.7,447.7 L735.9,447.9 L732.2,448.1 L728.5,448.2 L724.8,448.1 L721.2,447.8 L717.6,447.3 L714.1,446.5 L710.7,445.6 L707.3,444.6 L704.0,443.4 L700.8,442.0 L697.7,440.4 L694.8,438.5 L692.0,436.3 L689.5,433.9 L687.2,431.1 L685.2,428.1 L683.6,424.8 L682.5,421.2 L681.8,417.5 L681.2,413.8 L680.6,410.1 L680.2,406.3 L679.9,402.5 L679.6,398.8 L679.3,395.0 Z" fill="#e0b462"/>
<polyline points="684.2,424.9 686.0,428.2 688.2,431.1 690.6,433.7 693.4,436.1 696.3,438.1 699.4,439.8 702.6,441.2 705.9,442.5 709.4,443.4 712.9,444.3 716.3,445.0 719.9,445.5 723.5,445.9 727.2,446.0 730.9,445.9 734.7,445.7 738.4,445.5 742.1,445.2 745.9,444.8 749.6,444.5 753.3,444.2 757.1,443.8 760.9,443.6 764.6,443.3 768.4,443.1 772.2,442.9 776.0,442.7 779.8,442.5 783.6,442.3 787.4,442.0 791.2,441.7 794.9,441.4 798.7,441.0 802.5,440.7 806.3,440.4 810.1,440.1 813.8,439.9 817.6,439.7 821.4,439.6 825.2,439.6 829.0,439.7 832.8,439.9 836.5,440.3 840.3,440.9 844.0,441.6 847.7,442.4 851.4,443.3 855.0,444.4 858.6,445.6 862.1,446.9 865.7,448.3 869.2,449.7 872.6,451.3 876.1,452.9 879.5,454.5 882.9,456.2 886.2,457.9 889.5,459.8 892.8,461.7 896.0,463.7 899.2,465.8 902.3,467.9 905.4,470.1 908.5,472.4 911.5,474.7 914.5,477.0 917.5,479.4 920.4,481.8 923.3,484.2 926.2,486.7 929.0,489.2 931.8,491.7 934.6,494.2 937.4,496.6 940.2,499.1 943.0,501.6 945.7,504.0 948.5,506.5 951.3,508.9 954.0,511.3 956.8,513.7" fill="none" stroke="#f0cc80" stroke-width="1" opacity="0.7"/>
<path d="M679.1,395.0 L679.4,398.8 L679.7,402.5 L680.0,406.3 L680.4,410.0 L680.9,413.8 L681.5,417.5 L682.2,421.2 L683.3,424.8 L684.8,428.1 L686.8,431.2 L689.0,433.9 L691.4,436.4 L694.1,438.7 L697.0,440.6 L700.0,442.4 L703.2,443.9 L706.5,445.1 L709.8,446.2 L713.2,447.2 L716.6,448.0 L720.2,448.6 L723.8,449.0 L727.5,449.1 L731.2,449.1 L734.9,449.0 L738.6,448.9 L742.3,448.7 L746.1,448.5 L749.8,448.3 L753.5,448.1 L757.3,447.9 L761.0,447.7 L764.8,447.5 L768.5,447.4 L772.3,447.3 L776.1,447.1 L779.9,446.9 L783.6,446.6 L787.4,446.3 L791.1,445.9 L794.9,445.6 L798.6,445.2 L802.4,444.8 L806.1,444.5 L809.9,444.2 L813.6,443.9 L817.4,443.7 L821.1,443.7 L824.9,443.7 L828.7,443.8 L832.4,444.2 L836.2,444.7 L839.9,445.3 L843.6,446.1 L847.2,446.9 L850.8,447.9 L854.4,449.0 L858.0,450.2 L861.5,451.5 L865.0,452.9 L868.5,454.3 L871.9,455.9 L875.4,457.4 L878.7,459.1 L882.1,460.7 L885.4,462.5 L888.7,464.4 L891.9,466.3 L895.1,468.3 L898.3,470.4 L901.3,472.6 L904.4,474.8 L907.4,477.1 L910.4,479.4 L913.3,481.8 L916.2,484.2 L919.1,486.7 L921.9,489.2 L924.7,491.7 L927.4,494.3 L930.0,496.8 L932.7,499.4 L935.3,502.0 L937.9,504.6 L940.5,507.2 L943.1,509.8 L945.6,512.3 L948.2,514.9 L950.8,517.4 L945.2,521.0 L942.7,518.3 L940.3,515.6 L937.9,512.9 L935.5,510.2 L933.1,507.5 L930.6,504.8 L928.2,502.1 L925.7,499.4 L923.1,496.7 L920.5,494.1 L917.8,491.5 L915.1,489.0 L912.3,486.5 L909.4,484.1 L906.5,481.7 L903.5,479.4 L900.5,477.1 L897.5,474.9 L894.4,472.8 L891.3,470.8 L888.1,468.8 L884.8,466.9 L881.6,465.1 L878.2,463.4 L874.8,461.8 L871.4,460.2 L868.0,458.7 L864.6,457.3 L861.1,455.9 L857.6,454.6 L854.1,453.4 L850.5,452.3 L846.9,451.3 L843.3,450.3 L839.6,449.5 L835.9,448.8 L832.2,448.3 L828.5,447.8 L824.8,447.6 L821.1,447.5 L817.3,447.5 L813.6,447.7 L809.8,447.9 L806.1,448.3 L802.4,448.6 L798.7,449.0 L795.0,449.5 L791.2,449.9 L787.5,450.3 L783.8,450.7 L780.0,451.0 L776.3,451.3 L772.6,451.5 L768.8,451.6 L765.1,451.7 L761.3,451.8 L757.6,451.9 L753.8,452.0 L750.1,452.1 L746.4,452.2 L742.7,452.2 L739.0,452.3 L735.3,452.4 L731.6,452.4 L727.9,452.3 L724.2,452.2 L720.6,451.8 L717.0,451.3 L713.5,450.4 L710.2,449.4 L706.9,448.1 L703.7,446.7 L700.5,445.2 L697.5,443.5 L694.7,441.5 L692.1,439.3 L689.6,436.8 L687.4,434.1 L685.4,431.2 L683.7,428.1 L682.3,424.7 L681.4,421.1 L680.7,417.4 L680.1,413.7 L679.7,410.0 L679.3,406.2 L679.0,402.5 L678.8,398.7 L678.5,395.0 Z" fill="#d8a852"/>
<polyline points="683.0,424.8 684.5,428.1 686.4,431.2 688.6,434.0 691.0,436.5 693.6,438.8 696.4,440.9 699.3,442.7 702.5,444.2 705.7,445.5 709.1,446.7 712.4,447.8 715.8,448.7 719.4,449.3 723.0,449.7 726.6,449.9 730.3,449.9 734.0,449.9 737.7,449.8 741.4,449.6 745.2,449.5 748.9,449.3 752.6,449.1 756.4,448.9 760.1,448.8 763.9,448.7 767.6,448.5 771.4,448.4 775.2,448.3 778.9,448.1 782.7,447.8 786.4,447.5 790.2,447.1 793.9,446.7 797.7,446.3 801.4,445.9 805.1,445.6 808.9,445.2 812.6,445.0 816.4,444.8 820.1,444.7 823.9,444.7 827.6,444.8 831.4,445.1 835.1,445.6 838.8,446.2 842.5,447.0 846.2,447.8 849.8,448.8 853.4,449.9 857.0,451.1 860.5,452.3 864.0,453.7 867.5,455.1 870.9,456.6 874.3,458.2 877.7,459.8 881.1,461.4 884.4,463.2 887.7,465.0 890.9,467.0 894.1,469.0 897.2,471.1 900.3,473.2 903.4,475.4 906.4,477.7 909.4,480.0 912.3,482.4 915.2,484.8 918.0,487.3 920.8,489.8 923.6,492.3 926.2,494.9 928.9,497.5 931.5,500.1 934.1,502.7 936.6,505.4 939.2,508.0 941.7,510.6 944.2,513.2 946.8,515.8 949.3,518.4" fill="none" stroke="#f0cc80" stroke-width="1" opacity="0.7"/>
<path d="M678.3,395.0 L678.6,398.7 L678.8,402.5 L679.1,406.2 L679.5,409.9 L679.9,413.6 L680.4,417.3 L681.1,421.0 L682.0,424.6 L683.3,428.0 L685.0,431.2 L686.9,434.2 L689.1,436.9 L691.4,439.4 L694.0,441.7 L696.7,443.8 L699.7,445.6 L702.8,447.2 L706.0,448.7 L709.2,450.0 L712.6,451.2 L716.0,452.1 L719.6,452.7 L723.2,453.1 L726.9,453.3 L730.5,453.4 L734.2,453.5 L737.9,453.5 L741.6,453.4 L745.3,453.4 L749.0,453.3 L752.8,453.3 L756.5,453.2 L760.2,453.1 L764.0,453.1 L767.7,453.0 L771.4,452.9 L775.2,452.7 L778.9,452.4 L782.7,452.1 L786.4,451.7 L790.1,451.3 L793.8,450.8 L797.5,450.4 L801.2,449.9 L804.9,449.5 L808.7,449.2 L812.4,448.9 L816.1,448.7 L819.8,448.7 L823.6,448.7 L827.3,449.0 L831.0,449.4 L834.7,449.9 L838.4,450.6 L842.0,451.4 L845.6,452.3 L849.2,453.3 L852.8,454.4 L856.3,455.6 L859.8,456.9 L863.3,458.2 L866.8,459.6 L870.2,461.1 L873.6,462.6 L877.0,464.2 L880.3,465.9 L883.6,467.7 L886.8,469.6 L890.0,471.5 L893.2,473.6 L896.3,475.7 L899.3,477.9 L902.3,480.1 L905.3,482.4 L908.2,484.8 L911.0,487.2 L913.8,489.7 L916.6,492.2 L919.2,494.8 L921.8,497.5 L924.3,500.2 L926.7,502.9 L929.2,505.7 L931.5,508.4 L933.9,511.2 L936.3,513.9 L938.6,516.6 L941.0,519.4 L943.4,522.1 L937.7,525.6 L935.5,522.8 L933.3,519.9 L931.1,517.0 L928.9,514.2 L926.7,511.3 L924.5,508.4 L922.2,505.6 L919.9,502.8 L917.5,500.0 L915.1,497.2 L912.5,494.6 L909.8,492.0 L907.0,489.5 L904.2,487.1 L901.3,484.7 L898.4,482.4 L895.4,480.2 L892.4,478.0 L889.3,476.0 L886.2,474.0 L883.0,472.1 L879.7,470.2 L876.4,468.5 L873.1,466.9 L869.7,465.4 L866.3,463.9 L862.9,462.5 L859.4,461.1 L855.9,459.9 L852.4,458.7 L848.9,457.6 L845.3,456.6 L841.7,455.6 L838.1,454.8 L834.4,454.1 L830.8,453.5 L827.1,453.0 L823.4,452.6 L819.7,452.5 L816.0,452.5 L812.3,452.6 L808.6,452.9 L804.9,453.2 L801.2,453.6 L797.5,454.1 L793.8,454.6 L790.1,455.1 L786.4,455.6 L782.8,456.0 L779.1,456.5 L775.4,456.8 L771.6,457.1 L767.9,457.2 L764.2,457.3 L760.5,457.4 L756.8,457.4 L753.0,457.4 L749.3,457.4 L745.6,457.3 L741.9,457.3 L738.3,457.2 L734.6,457.1 L730.9,457.0 L727.2,456.8 L723.6,456.5 L719.9,456.1 L716.3,455.6 L712.8,454.7 L709.4,453.6 L706.2,452.2 L703.1,450.5 L700.1,448.8 L697.1,447.0 L694.3,444.9 L691.7,442.5 L689.4,440.0 L687.2,437.3 L685.3,434.4 L683.6,431.2 L682.2,428.0 L681.1,424.5 L680.3,420.9 L679.6,417.2 L679.1,413.5 L678.7,409.9 L678.4,406.1 L678.2,402.4 L677.9,398.7 L677.7,395.0 Z" fill="#dfb25e"/>
<polyline points="681.8,424.6 683.0,428.0 684.6,431.2 686.5,434.2 688.6,437.0 690.9,439.6 693.4,441.9 696.1,444.1 699.0,446.0 702.1,447.6 705.3,449.2 708.4,450.6 711.7,451.8 715.2,452.8 718.7,453.5 722.3,453.9 726.0,454.2 729.7,454.3 733.4,454.4 737.0,454.4 740.7,454.4 744.4,454.4 748.1,454.4 751.9,454.3 755.6,454.3 759.3,454.2 763.0,454.2 766.8,454.1 770.5,454.0 774.3,453.8 778.0,453.6 781.7,453.2 785.4,452.8 789.1,452.4 792.8,451.9 796.5,451.5 800.2,451.0 803.9,450.6 807.7,450.3 811.4,450.0 815.1,449.8 818.8,449.7 822.5,449.7 826.3,449.9 830.0,450.3 833.7,450.9 837.3,451.5 841.0,452.3 844.6,453.2 848.2,454.2 851.8,455.2 855.3,456.4 858.8,457.7 862.3,459.0 865.8,460.4 869.2,461.8 872.6,463.3 876.0,464.9 879.3,466.6 882.6,468.4 885.8,470.2 889.0,472.2 892.2,474.2 895.2,476.3 898.3,478.5 901.3,480.7 904.2,483.0 907.1,485.4 910.0,487.8 912.8,490.3 915.5,492.8 918.1,495.5 920.7,498.2 923.1,500.9 925.6,503.6 927.9,506.4 930.3,509.2 932.6,511.9 934.9,514.7 937.2,517.5 939.5,520.3 941.9,523.0" fill="none" stroke="#f0cc80" stroke-width="1" opacity="0.7"/>
<path d="M677.5,395.0 L677.7,398.7 L678.0,402.4 L678.2,406.1 L678.5,409.8 L678.9,413.5 L679.4,417.2 L680.0,420.9 L680.8,424.5 L681.9,427.9 L683.2,431.3 L684.8,434.4 L686.7,437.4 L688.7,440.2 L691.0,442.8 L693.5,445.2 L696.3,447.4 L699.2,449.3 L702.2,451.1 L705.3,452.9 L708.5,454.4 L711.8,455.6 L715.3,456.5 L718.9,457.1 L722.5,457.5 L726.2,457.8 L729.8,458.1 L733.5,458.3 L737.2,458.4 L740.9,458.5 L744.6,458.6 L748.3,458.7 L752.0,458.7 L755.7,458.7 L759.4,458.7 L763.1,458.7 L766.8,458.6 L770.5,458.5 L774.2,458.2 L777.9,457.8 L781.6,457.4 L785.3,456.9 L789.0,456.4 L792.6,455.9 L796.3,455.4 L800.0,454.9 L803.7,454.5 L807.4,454.1 L811.1,453.8 L814.8,453.7 L818.5,453.6 L822.2,453.8 L825.9,454.1 L829.5,454.6 L833.2,455.2 L836.8,455.9 L840.5,456.7 L844.1,457.6 L847.6,458.6 L851.2,459.7 L854.7,460.8 L858.2,462.1 L861.6,463.4 L865.1,464.8 L868.5,466.2 L871.9,467.7 L875.2,469.3 L878.5,471.0 L881.7,472.8 L884.9,474.7 L888.1,476.7 L891.2,478.8 L894.2,480.9 L897.2,483.1 L900.1,485.4 L903.0,487.8 L905.8,490.2 L908.5,492.7 L911.2,495.3 L913.7,498.0 L916.2,500.7 L918.5,503.6 L920.8,506.4 L923.0,509.3 L925.2,512.2 L927.3,515.1 L929.5,518.0 L931.6,521.0 L933.7,523.9 L935.9,526.8 L930.2,530.3 L928.2,527.3 L926.2,524.2 L924.3,521.2 L922.4,518.1 L920.4,515.1 L918.4,512.1 L916.3,509.1 L914.1,506.1 L911.9,503.2 L909.6,500.4 L907.1,497.6 L904.5,495.0 L901.8,492.5 L899.1,490.1 L896.2,487.7 L893.3,485.4 L890.3,483.2 L887.3,481.1 L884.2,479.1 L881.1,477.2 L877.9,475.3 L874.6,473.6 L871.3,471.9 L868.0,470.4 L864.6,468.9 L861.2,467.5 L857.7,466.2 L854.2,465.0 L850.7,463.8 L847.2,462.8 L843.7,461.8 L840.1,460.8 L836.5,460.0 L832.9,459.3 L829.3,458.7 L825.6,458.1 L821.9,457.7 L818.3,457.5 L814.6,457.4 L810.9,457.5 L807.2,457.7 L803.5,458.0 L799.9,458.5 L796.2,459.0 L792.6,459.5 L788.9,460.1 L785.3,460.7 L781.7,461.2 L778.0,461.8 L774.3,462.2 L770.7,462.6 L767.0,462.8 L763.3,463.0 L759.6,463.0 L755.9,463.0 L752.2,463.0 L748.5,462.9 L744.8,462.8 L741.2,462.6 L737.5,462.4 L733.8,462.2 L730.2,461.9 L726.5,461.6 L722.9,461.2 L719.2,460.7 L715.6,460.1 L712.1,459.3 L708.7,458.2 L705.4,456.8 L702.3,455.0 L699.3,453.0 L696.5,450.9 L693.6,448.7 L691.1,446.3 L688.7,443.6 L686.7,440.8 L684.9,437.8 L683.2,434.6 L681.9,431.3 L680.8,427.9 L679.8,424.4 L679.1,420.7 L678.6,417.1 L678.1,413.4 L677.8,409.7 L677.5,406.1 L677.3,402.4 L677.1,398.7 L676.9,395.0 Z" fill="#d6a650"/>
<polyline points="680.5,424.4 681.6,427.9 682.9,431.3 684.4,434.5 686.2,437.5 688.2,440.3 690.4,443.0 692.9,445.5 695.6,447.7 698.5,449.7 701.5,451.6 704.5,453.4 707.6,455.0 711.0,456.3 714.5,457.2 718.1,457.9 721.7,458.4 725.3,458.7 729.0,459.0 732.6,459.2 736.3,459.4 740.0,459.5 743.7,459.7 747.4,459.7 751.1,459.8 754.8,459.8 758.5,459.8 762.2,459.8 765.9,459.8 769.6,459.6 773.3,459.4 777.0,459.0 780.7,458.6 784.3,458.1 788.0,457.5 791.7,457.0 795.3,456.5 799.0,456.0 802.7,455.5 806.4,455.1 810.0,454.8 813.7,454.7 817.4,454.6 821.1,454.8 824.8,455.1 828.5,455.5 832.2,456.1 835.8,456.8 839.4,457.6 843.0,458.4 846.6,459.4 850.1,460.5 853.6,461.6 857.1,462.8 860.6,464.1 864.0,465.5 867.5,466.9 870.8,468.4 874.2,470.0 877.5,471.7 880.7,473.5 883.9,475.4 887.1,477.3 890.2,479.4 893.2,481.5 896.2,483.7 899.1,486.0 901.9,488.4 904.7,490.8 907.5,493.3 910.1,495.9 912.7,498.6 915.1,501.4 917.4,504.2 919.6,507.1 921.8,510.0 923.9,513.0 926.0,515.9 928.1,518.9 930.2,521.8 932.3,524.8 934.4,527.7" fill="none" stroke="#f0cc80" stroke-width="1" opacity="0.7"/>
<path d="M676.7,395.0 L676.9,398.7 L677.1,402.4 L677.3,406.0 L677.6,409.7 L677.9,413.4 L678.3,417.1 L678.9,420.7 L679.5,424.3 L680.4,427.9 L681.5,431.3 L682.7,434.7 L684.3,437.9 L686.0,441.0 L688.0,443.9 L690.3,446.6 L692.8,449.2 L695.6,451.4 L698.4,453.6 L701.3,455.7 L704.4,457.5 L707.6,459.0 L711.1,460.2 L714.6,461.1 L718.2,461.7 L721.8,462.3 L725.5,462.7 L729.1,463.1 L732.8,463.4 L736.4,463.6 L740.1,463.9 L743.8,464.0 L747.4,464.2 L751.1,464.3 L754.8,464.4 L758.5,464.4 L762.2,464.4 L765.9,464.2 L769.5,464.0 L773.2,463.6 L776.9,463.1 L780.5,462.6 L784.1,462.0 L787.8,461.4 L791.4,460.9 L795.0,460.3 L798.7,459.8 L802.3,459.3 L806.0,458.9 L809.7,458.7 L813.4,458.5 L817.0,458.6 L820.7,458.9 L824.4,459.3 L828.0,459.8 L831.7,460.4 L835.3,461.1 L838.9,461.9 L842.4,462.8 L846.0,463.7 L849.5,464.8 L853.0,465.9 L856.5,467.1 L859.9,468.4 L863.3,469.8 L866.7,471.2 L870.1,472.8 L873.4,474.4 L876.6,476.1 L879.8,477.9 L883.0,479.9 L886.1,481.9 L889.1,484.0 L892.1,486.2 L895.0,488.4 L897.8,490.8 L900.6,493.2 L903.3,495.8 L905.9,498.4 L908.3,501.1 L910.6,504.0 L912.8,506.9 L914.9,509.9 L916.9,512.9 L918.9,516.0 L920.8,519.1 L922.7,522.2 L924.6,525.3 L926.5,528.4 L928.4,531.4 L922.7,534.9 L920.9,531.8 L919.2,528.5 L917.5,525.3 L915.8,522.1 L914.0,518.9 L912.2,515.7 L910.4,512.6 L908.4,509.5 L906.3,506.5 L904.1,503.5 L901.8,500.7 L899.3,498.1 L896.6,495.5 L893.9,493.1 L891.1,490.7 L888.2,488.5 L885.2,486.3 L882.2,484.2 L879.1,482.2 L876.0,480.4 L872.8,478.6 L869.5,476.9 L866.2,475.4 L862.8,473.9 L859.4,472.5 L856.0,471.2 L852.6,470.0 L849.1,468.9 L845.6,467.8 L842.0,466.8 L838.5,465.9 L834.9,465.1 L831.3,464.4 L827.7,463.8 L824.1,463.2 L820.4,462.8 L816.8,462.5 L813.1,462.3 L809.5,462.3 L805.8,462.5 L802.2,462.8 L798.5,463.2 L794.9,463.8 L791.3,464.4 L787.7,465.0 L784.1,465.7 L780.5,466.3 L776.9,466.9 L773.2,467.5 L769.6,468.0 L766.0,468.4 L762.3,468.6 L758.6,468.7 L755.0,468.7 L751.3,468.7 L747.6,468.5 L744.0,468.4 L740.3,468.1 L736.7,467.9 L733.0,467.5 L729.4,467.2 L725.8,466.7 L722.1,466.2 L718.5,465.6 L714.9,464.9 L711.4,464.1 L707.9,463.1 L704.5,461.7 L701.3,459.9 L698.3,457.8 L695.5,455.4 L692.8,453.0 L690.2,450.5 L687.8,447.7 L685.8,444.7 L684.0,441.5 L682.5,438.2 L681.2,434.8 L680.1,431.3 L679.3,427.8 L678.6,424.2 L678.0,420.6 L677.5,416.9 L677.1,413.3 L676.9,409.6 L676.6,406.0 L676.5,402.3 L676.3,398.7 L676.1,395.0 Z" fill="#dcac58"/>
<polyline points="679.3,424.3 680.1,427.8 681.1,431.3 682.3,434.7 683.8,438.0 685.5,441.1 687.4,444.1 689.6,446.9 692.1,449.5 694.9,451.8 697.7,454.1 700.5,456.2 703.6,458.2 706.8,459.7 710.2,461.0 713.8,461.9 717.3,462.6 721.0,463.1 724.6,463.6 728.2,464.0 731.9,464.4 735.5,464.7 739.2,464.9 742.9,465.1 746.5,465.3 750.2,465.4 753.9,465.5 757.6,465.5 761.2,465.5 764.9,465.4 768.6,465.1 772.3,464.8 775.9,464.3 779.5,463.7 783.2,463.2 786.8,462.6 790.4,461.9 794.1,461.4 797.7,460.8 801.3,460.3 805.0,459.9 808.7,459.7 812.3,459.5 816.0,459.6 819.7,459.8 823.3,460.2 827.0,460.7 830.6,461.3 834.2,461.9 837.8,462.7 841.4,463.6 844.9,464.5 848.5,465.6 852.0,466.7 855.4,467.9 858.9,469.2 862.3,470.5 865.7,471.9 869.1,473.4 872.4,475.1 875.6,476.8 878.8,478.6 882.0,480.5 885.1,482.5 888.1,484.6 891.1,486.8 894.0,489.0 896.8,491.4 899.5,493.8 902.2,496.4 904.8,499.0 907.2,501.8 909.5,504.6 911.6,507.6 913.7,510.6 915.7,513.7 917.6,516.8 919.5,519.9 921.3,523.0 923.2,526.1 925.0,529.3 926.9,532.3" fill="none" stroke="#f0cc80" stroke-width="1" opacity="0.7"/>
<ellipse cx="947.9" cy="519.3" rx="30.8" ry="11" transform="rotate(148.1 947.9 519.3)" fill="#6b4616"/>
<circle cx="973.6" cy="507.1" r="1.9" fill="#e0b060" stroke="#5a3a10" stroke-width="0.6"/>
<circle cx="972.7" cy="504.5" r="1.9" fill="#e0b060" stroke="#5a3a10" stroke-width="0.6"/>
<circle cx="970.6" cy="500.7" r="1.9" fill="#e0b060" stroke="#5a3a10" stroke-width="0.6"/>
<circle cx="971.0" cy="509.0" r="1.9" fill="#e0b060" stroke="#5a3a10" stroke-width="0.6"/>
<circle cx="968.5" cy="506.4" r="1.9" fill="#e0b060" stroke="#5a3a10" stroke-width="0.6"/>
<circle cx="967.1" cy="503.7" r="1.9" fill="#e0b060" stroke="#5a3a10" stroke-width="0.6"/>
<circle cx="969.0" cy="514.1" r="1.9" fill="#e0b060" stroke="#5a3a10" stroke-width="0.6"/>
<circle cx="967.7" cy="511.9" r="1.9" fill="#e0b060" stroke="#5a3a10" stroke-width="0.6"/>
<circle cx="965.3" cy="508.2" r="1.9" fill="#e0b060" stroke="#5a3a10" stroke-width="0.6"/>
<circle cx="963.8" cy="505.5" r="1.9" fill="#e0b060" stroke="#5a3a10" stroke-width="0.6"/>
<circle cx="961.9" cy="502.8" r="1.9" fill="#e0b060" stroke="#5a3a10" stroke-width="0.6"/>
<circle cx="965.2" cy="516.5" r="1.9" fill="#e0b060" stroke="#5a3a10" stroke-width="0.6"/>
<circle cx="964.0" cy="513.1" r="1.9" fill="#e0b060" stroke="#5a3a10" stroke-width="0.6"/>
<circle cx="961.2" cy="510.8" r="1.9" fill="#e0b060" stroke="#5a3a10" stroke-width="0.6"/>
<circle cx="959.6" cy="507.6" r="1.9" fill="#e0b060" stroke="#5a3a10" stroke-width="0.6"/>
<circle cx="957.9" cy="504.3" r="1.9" fill="#e0b060" stroke="#5a3a10" stroke-width="0.6"/>
<circle cx="962.3" cy="518.6" r="1.9" fill="#e0b060" stroke="#5a3a10" stroke-width="0.6"/>
<circle cx="960.0" cy="516.1" r="1.9" fill="#e0b060" stroke="#5a3a10" stroke-width="0.6"/>
<circle cx="958.1" cy="512.9" r="1.9" fill="#e0b060" stroke="#5a3a10" stroke-width="0.6"/>
<circle cx="956.9" cy="509.3" r="1.9" fill="#e0b060" stroke="#5a3a10" stroke-width="0.6"/>
<circle cx="954.0" cy="506.4" r="1.9" fill="#e0b060" stroke="#5a3a10" stroke-width="0.6"/>
<circle cx="960.2" cy="523.9" r="1.9" fill="#e0b060" stroke="#5a3a10" stroke-width="0.6"/>
<circle cx="958.2" cy="521.0" r="1.9" fill="#e0b060" stroke="#5a3a10" stroke-width="0.6"/>
<circle cx="956.2" cy="518.3" r="1.9" fill="#e0b060" stroke="#5a3a10" stroke-width="0.6"/>
<circle cx="955.3" cy="515.5" r="1.9" fill="#e0b060" stroke="#5a3a10" stroke-width="0.6"/>
<circle cx="953.2" cy="512.5" r="1.9" fill="#e0b060" stroke="#5a3a10" stroke-width="0.6"/>
<circle cx="950.4" cy="508.6" r="1.9" fill="#e0b060" stroke="#5a3a10" stroke-width="0.6"/>
<circle cx="949.7" cy="506.1" r="1.9" fill="#e0b060" stroke="#5a3a10" stroke-width="0.6"/>
<circle cx="956.9" cy="526.8" r="1.9" fill="#e0b060" stroke="#5a3a10" stroke-width="0.6"/>
<circle cx="955.3" cy="523.6" r="1.9" fill="#e0b060" stroke="#5a3a10" stroke-width="0.6"/>
<circle cx="953.0" cy="519.8" r="1.9" fill="#e0b060" stroke="#5a3a10" stroke-width="0.6"/>
<circle cx="951.3" cy="516.7" r="1.9" fill="#e0b060" stroke="#5a3a10" stroke-width="0.6"/>
<circle cx="949.3" cy="514.6" r="1.9" fill="#e0b060" stroke="#5a3a10" stroke-width="0.6"/>
<circle cx="947.3" cy="510.4" r="1.9" fill="#e0b060" stroke="#5a3a10" stroke-width="0.6"/>
<circle cx="945.1" cy="507.6" r="1.9" fill="#e0b060" stroke="#5a3a10" stroke-width="0.6"/>
<circle cx="953.9" cy="528.3" r="1.9" fill="#e0b060" stroke="#5a3a10" stroke-width="0.6"/>
<circle cx="951.4" cy="524.9" r="1.9" fill="#e0b060" stroke="#5a3a10" stroke-width="0.6"/>
<circle cx="950.3" cy="522.3" r="1.9" fill="#e0b060" stroke="#5a3a10" stroke-width="0.6"/>
<circle cx="947.5" cy="518.8" r="1.9" fill="#e0b060" stroke="#5a3a10" stroke-width="0.6"/>
<circle cx="945.4" cy="515.8" r="1.9" fill="#e0b060" stroke="#5a3a10" stroke-width="0.6"/>
<circle cx="944.3" cy="512.8" r="1.9" fill="#e0b060" stroke="#5a3a10" stroke-width="0.6"/>
<circle cx="941.6" cy="510.1" r="1.9" fill="#e0b060" stroke="#5a3a10" stroke-width="0.6"/>
<circle cx="949.8" cy="531.2" r="1.9" fill="#e0b060" stroke="#5a3a10" stroke-width="0.6"/>
<circle cx="947.7" cy="527.6" r="1.9" fill="#e0b060" stroke="#5a3a10" stroke-width="0.6"/>
<circle cx="946.6" cy="524.4" r="1.9" fill="#e0b060" stroke="#5a3a10" stroke-width="0.6"/>
<circle cx="945.0" cy="521.4" r="1.9" fill="#e0b060" stroke="#5a3a10" stroke-width="0.6"/>
<circle cx="942.2" cy="518.3" r="1.9" fill="#e0b060" stroke="#5a3a10" stroke-width="0.6"/>
<circle cx="940.0" cy="515.3" r="1.9" fill="#e0b060" stroke="#5a3a10" stroke-width="0.6"/>
<circle cx="938.4" cy="512.8" r="1.9" fill="#e0b060" stroke="#5a3a10" stroke-width="0.6"/>
<circle cx="947.0" cy="532.8" r="1.9" fill="#e0b060" stroke="#5a3a10" stroke-width="0.6"/>
<circle cx="944.1" cy="529.5" r="1.9" fill="#e0b060" stroke="#5a3a10" stroke-width="0.6"/>
<circle cx="942.5" cy="526.3" r="1.9" fill="#e0b060" stroke="#5a3a10" stroke-width="0.6"/>
<circle cx="940.6" cy="524.1" r="1.9" fill="#e0b060" stroke="#5a3a10" stroke-width="0.6"/>
<circle cx="938.6" cy="520.0" r="1.9" fill="#e0b060" stroke="#5a3a10" stroke-width="0.6"/>
<circle cx="937.6" cy="517.6" r="1.9" fill="#e0b060" stroke="#5a3a10" stroke-width="0.6"/>
<circle cx="935.8" cy="514.4" r="1.9" fill="#e0b060" stroke="#5a3a10" stroke-width="0.6"/>
<circle cx="941.6" cy="532.2" r="1.9" fill="#e0b060" stroke="#5a3a10" stroke-width="0.6"/>
<circle cx="939.3" cy="528.4" r="1.9" fill="#e0b060" stroke="#5a3a10" stroke-width="0.6"/>
<circle cx="937.1" cy="526.3" r="1.9" fill="#e0b060" stroke="#5a3a10" stroke-width="0.6"/>
<circle cx="936.0" cy="523.3" r="1.9" fill="#e0b060" stroke="#5a3a10" stroke-width="0.6"/>
<circle cx="933.4" cy="519.9" r="1.9" fill="#e0b060" stroke="#5a3a10" stroke-width="0.6"/>
<circle cx="937.9" cy="534.3" r="1.9" fill="#e0b060" stroke="#5a3a10" stroke-width="0.6"/>
<circle cx="935.6" cy="531.5" r="1.9" fill="#e0b060" stroke="#5a3a10" stroke-width="0.6"/>
<circle cx="934.5" cy="527.5" r="1.9" fill="#e0b060" stroke="#5a3a10" stroke-width="0.6"/>
<circle cx="932.6" cy="525.5" r="1.9" fill="#e0b060" stroke="#5a3a10" stroke-width="0.6"/>
<circle cx="930.3" cy="521.3" r="1.9" fill="#e0b060" stroke="#5a3a10" stroke-width="0.6"/>
<circle cx="933.7" cy="535.9" r="1.9" fill="#e0b060" stroke="#5a3a10" stroke-width="0.6"/>
<circle cx="932.5" cy="533.3" r="1.9" fill="#e0b060" stroke="#5a3a10" stroke-width="0.6"/>
<circle cx="930.7" cy="530.7" r="1.9" fill="#e0b060" stroke="#5a3a10" stroke-width="0.6"/>
<circle cx="928.2" cy="526.5" r="1.9" fill="#e0b060" stroke="#5a3a10" stroke-width="0.6"/>
<circle cx="927.2" cy="523.4" r="1.9" fill="#e0b060" stroke="#5a3a10" stroke-width="0.6"/>
<circle cx="929.3" cy="535.0" r="1.9" fill="#e0b060" stroke="#5a3a10" stroke-width="0.6"/>
<circle cx="927.2" cy="532.1" r="1.9" fill="#e0b060" stroke="#5a3a10" stroke-width="0.6"/>
<circle cx="925.5" cy="529.6" r="1.9" fill="#e0b060" stroke="#5a3a10" stroke-width="0.6"/>
<circle cx="925.0" cy="537.4" r="1.9" fill="#e0b060" stroke="#5a3a10" stroke-width="0.6"/>
<circle cx="923.8" cy="534.5" r="1.9" fill="#e0b060" stroke="#5a3a10" stroke-width="0.6"/>
<circle cx="921.0" cy="531.8" r="1.9" fill="#e0b060" stroke="#5a3a10" stroke-width="0.6"/>
<path d="M646.6,559.5 L770,558 C830,559 860,586 900,576 C935,566 950,548 950.5,530" fill="none" stroke="#cf9c45" stroke-width="4.8" stroke-linecap="round"/>
<path d="M646.6,559.5 L770,558 C830,559 860,586 900,576 C935,566 950,548 950.5,530" fill="none" stroke="#eec57a" stroke-width="2.8" stroke-linecap="round"/>
<path d="M646.6,580.6 L780,581 C840,584 870,608 910,598 C945,588 955,560 954,540" fill="none" stroke="#cf9c45" stroke-width="4.8" stroke-linecap="round"/>
<path d="M646.6,580.6 L780,581 C840,584 870,608 910,598 C945,588 955,560 954,540" fill="none" stroke="#eec57a" stroke-width="2.8" stroke-linecap="round"/>
<path d="M632,690 C626,640 630,610 660,604 C700,598 740,598 790,602 C850,606 880,630 925,616 C955,604 960,575 958,545" fill="none" stroke="#cf9c45" stroke-width="4.8" stroke-linecap="round"/>
<path d="M632,690 C626,640 630,610 660,604 C700,598 740,598 790,602 C850,606 880,630 925,616 C955,604 960,575 958,545" fill="none" stroke="#eec57a" stroke-width="2.8" stroke-linecap="round"/>
<line x1="687.4" y1="561.8" x2="687.4" y2="577" stroke="#d8262e" stroke-width="3.8" stroke-dasharray="3.6,2.2"/>
<line x1="715.4" y1="561.8" x2="715.4" y2="577" stroke="#d8262e" stroke-width="3.8" stroke-dasharray="3.6,2.2"/>
<line x1="744.4" y1="561.8" x2="744.4" y2="577" stroke="#d8262e" stroke-width="3.8" stroke-dasharray="3.6,2.2"/>
<line x1="773" y1="561.8" x2="773" y2="577" stroke="#d8262e" stroke-width="3.8" stroke-dasharray="3.6,2.2"/>
<line x1="803.5" y1="561.8" x2="803.5" y2="577" stroke="#d8262e" stroke-width="3.8" stroke-dasharray="3.6,2.2"/>
<line x1="701.2" y1="582.5" x2="701.2" y2="598.5" stroke="#d8262e" stroke-width="3.8" stroke-dasharray="3.6,2.2"/>
<line x1="728.6" y1="582.5" x2="728.6" y2="598.5" stroke="#d8262e" stroke-width="3.8" stroke-dasharray="3.6,2.2"/>
<line x1="759.2" y1="582.5" x2="759.2" y2="598.5" stroke="#d8262e" stroke-width="3.8" stroke-dasharray="3.6,2.2"/>
<line x1="786.8" y1="582.5" x2="786.8" y2="598.5" stroke="#d8262e" stroke-width="3.8" stroke-dasharray="3.6,2.2"/>
<line x1="814.4" y1="582.5" x2="814.4" y2="598.5" stroke="#d8262e" stroke-width="3.8" stroke-dasharray="3.6,2.2"/>
<circle cx="701.4" cy="587.3" r="10.6" fill="none" stroke="#c8262e" stroke-width="1.8"/>
<line x1="706" y1="599" x2="716" y2="614" stroke="#c8282e" stroke-width="1.6"/><polygon points="720,620 711.5,613 718,609" fill="#c8282e"/>
<text x="690.8" y="532" font-family="Liberation Sans, sans-serif" font-size="20.95" fill="#231f20" stroke="#231f20" stroke-width="0.55">Cellulose nanofibre</text>
<line x1="777.4" y1="535" x2="777.4" y2="552" stroke="#111" stroke-width="1.5"/><polygon points="773.6,547.8 781.2,547.8 777.4,557" fill="#111"/>
<text x="683.6" y="640.6" font-family="Liberation Sans, sans-serif" font-size="21.4" fill="#cc2838" transform="translate(0 44.84) scale(1 0.93)" stroke="#cc2838" stroke-width="0.55">Hydrogen bond</text>
<path d="M633.5,684.5 C652,682 676,672 700,664 C712,661 720,660 730,659.8 L973,659.8 L973,687 L730,686 C712,686 700,689 680,691 C660,692 645,689 633.5,688 Z" fill="url(#gRib)"/>
<rect x="760" y="665.8" width="213" height="12.2" fill="#ffffff" opacity="0.18"/>
<path d="M634,689.5 C645,697 660,708 680,711 C700,713 720,713 737,710.5 L973,710 L973,737.5 L737,737.8 C715,737 695,736 675,730 C658,724 645,708 634,694 Z" fill="url(#gRib)"/>
<rect x="760" y="716.0" width="213" height="12.4" fill="#ffffff" opacity="0.18"/>
<path d="M635,696.5 C642,715 652,738 672,754 C690,762 710,763 737,762 L973,762 L973,788.8 L737,788.8 C705,788 685,786 668,774 C652,760 642,730 634.5,697 Z" fill="url(#gRib)"/>
<rect x="760" y="768.0" width="213" height="12.1" fill="#ffffff" opacity="0.18"/>
<polyline points="740,674.3 973,674.3" fill="none" stroke="#2a3a55" stroke-width="0.8" opacity="0.5"/>
<polygon points="749.6,665.3 760.6,680.0 787.4,680.6 778.2,667.7 763.6,671.4" fill="#3a8fd6" stroke="#12304f" stroke-width="1.5" stroke-linejoin="round"/>
<polyline points="749.6,665.3 760.6,680.0 787.4,680.6" fill="none" stroke="#0d2440" stroke-width="2.2"/>
<circle cx="777.6" cy="664.3" r="2.6" fill="#e8f3fb" stroke="#1a2a3a" stroke-width="1.2"/>
<circle cx="797.6" cy="675.3" r="2.6" fill="#e8f3fb" stroke="#1a2a3a" stroke-width="1.2"/>
<polygon points="810.7,680.6 819.7,666.8 848.5,665.3 841.7,677.8 835.7,674.8" fill="#3a8fd6" stroke="#12304f" stroke-width="1.5" stroke-linejoin="round"/>
<polyline points="810.7,680.6 819.7,666.8" fill="none" stroke="#0d2440" stroke-width="2.2"/>
<circle cx="843.7" cy="679.3" r="2.6" fill="#e8f3fb" stroke="#1a2a3a" stroke-width="1.2"/>
<circle cx="858.7" cy="670.3" r="2.6" fill="#e8f3fb" stroke="#1a2a3a" stroke-width="1.2"/>
<polygon points="872.0,665.3 883.0,680.0 909.8,680.6 900.6,667.7 886.0,671.4" fill="#3a8fd6" stroke="#12304f" stroke-width="1.5" stroke-linejoin="round"/>
<polyline points="872.0,665.3 883.0,680.0 909.8,680.6" fill="none" stroke="#0d2440" stroke-width="2.2"/>
<circle cx="900.0" cy="664.3" r="2.6" fill="#e8f3fb" stroke="#1a2a3a" stroke-width="1.2"/>
<circle cx="920.0" cy="675.3" r="2.6" fill="#e8f3fb" stroke="#1a2a3a" stroke-width="1.2"/>
<polygon points="932.6,680.6 941.6,666.8 970.4,665.3 963.6,677.8 957.6,674.8" fill="#3a8fd6" stroke="#12304f" stroke-width="1.5" stroke-linejoin="round"/>
<polyline points="932.6,680.6 941.6,666.8" fill="none" stroke="#0d2440" stroke-width="2.2"/>
<circle cx="965.6" cy="679.3" r="2.6" fill="#e8f3fb" stroke="#1a2a3a" stroke-width="1.2"/>
<circle cx="743" cy="675.3" r="2.6" fill="#e8f3fb" stroke="#1a2a3a" stroke-width="1.2"/>
<text x="747" y="656.8" font-family="Liberation Sans, sans-serif" font-size="8.5" font-weight="bold" fill="#222" text-anchor="middle" stroke="#222" stroke-width="0.25">H</text>
<circle cx="747" cy="660.8" r="2.6" fill="#e8f3fb" stroke="#1a2a3a" stroke-width="1.2"/>
<text x="804.5" y="663.8" font-family="Liberation Sans, sans-serif" font-size="8.5" font-weight="bold" fill="#222" text-anchor="middle" stroke="#222" stroke-width="0.25">HO</text>
<text x="840" y="663.8" font-family="Liberation Sans, sans-serif" font-size="8.5" font-weight="bold" fill="#222" text-anchor="middle" stroke="#222" stroke-width="0.25">OH</text>
<text x="866.7" y="656.8" font-family="Liberation Sans, sans-serif" font-size="8.5" font-weight="bold" fill="#222" text-anchor="middle" stroke="#222" stroke-width="0.25">H</text>
<circle cx="866.7" cy="660.8" r="2.6" fill="#e8f3fb" stroke="#1a2a3a" stroke-width="1.2"/>
<text x="925" y="663.8" font-family="Liberation Sans, sans-serif" font-size="8.5" font-weight="bold" fill="#222" text-anchor="middle" stroke="#222" stroke-width="0.25">HO</text>
<text x="963" y="663.8" font-family="Liberation Sans, sans-serif" font-size="8.5" font-weight="bold" fill="#222" text-anchor="middle" stroke="#222" stroke-width="0.25">OH</text>
<text x="748" y="690.0" font-family="Liberation Sans, sans-serif" font-size="8.5" font-weight="bold" fill="#222" text-anchor="middle" stroke="#222" stroke-width="0.25">HO</text>
<text x="782.5" y="690.0" font-family="Liberation Sans, sans-serif" font-size="8.5" font-weight="bold" fill="#222" text-anchor="middle" stroke="#222" stroke-width="0.25">OH</text>
<circle cx="808" cy="686.5" r="2.6" fill="#e8f3fb" stroke="#1a2a3a" stroke-width="1.2"/>
<text x="808" y="697.0" font-family="Liberation Sans, sans-serif" font-size="8.5" font-weight="bold" fill="#222" text-anchor="middle" stroke="#222" stroke-width="0.25">H</text>
<text x="866.7" y="690.0" font-family="Liberation Sans, sans-serif" font-size="8.5" font-weight="bold" fill="#222" text-anchor="middle" stroke="#222" stroke-width="0.25">HO</text>
<text x="904.5" y="690.0" font-family="Liberation Sans, sans-serif" font-size="8.5" font-weight="bold" fill="#222" text-anchor="middle" stroke="#222" stroke-width="0.25">OH</text>
<circle cx="929" cy="686.5" r="2.6" fill="#e8f3fb" stroke="#1a2a3a" stroke-width="1.2"/>
<text x="929" y="697.0" font-family="Liberation Sans, sans-serif" font-size="8.5" font-weight="bold" fill="#222" text-anchor="middle" stroke="#222" stroke-width="0.25">H</text>
<polyline points="740,724.5 973,724.5" fill="none" stroke="#2a3a55" stroke-width="0.8" opacity="0.5"/>
<polygon points="749.6,715.5 760.6,730.2 787.4,730.8 778.2,717.9 763.6,721.6" fill="#3a8fd6" stroke="#12304f" stroke-width="1.5" stroke-linejoin="round"/>
<polyline points="749.6,715.5 760.6,730.2 787.4,730.8" fill="none" stroke="#0d2440" stroke-width="2.2"/>
<circle cx="777.6" cy="714.5" r="2.6" fill="#e8f3fb" stroke="#1a2a3a" stroke-width="1.2"/>
<circle cx="797.6" cy="725.5" r="2.6" fill="#e8f3fb" stroke="#1a2a3a" stroke-width="1.2"/>
<polygon points="810.7,730.8 819.7,717.0 848.5,715.5 841.7,728.0 835.7,725.0" fill="#3a8fd6" stroke="#12304f" stroke-width="1.5" stroke-linejoin="round"/>
<polyline points="810.7,730.8 819.7,717.0" fill="none" stroke="#0d2440" stroke-width="2.2"/>
<circle cx="843.7" cy="729.5" r="2.6" fill="#e8f3fb" stroke="#1a2a3a" stroke-width="1.2"/>
<circle cx="858.7" cy="720.5" r="2.6" fill="#e8f3fb" stroke="#1a2a3a" stroke-width="1.2"/>
<polygon points="872.0,715.5 883.0,730.2 909.8,730.8 900.6,717.9 886.0,721.6" fill="#3a8fd6" stroke="#12304f" stroke-width="1.5" stroke-linejoin="round"/>
<polyline points="872.0,715.5 883.0,730.2 909.8,730.8" fill="none" stroke="#0d2440" stroke-width="2.2"/>
<circle cx="900.0" cy="714.5" r="2.6" fill="#e8f3fb" stroke="#1a2a3a" stroke-width="1.2"/>
<circle cx="920.0" cy="725.5" r="2.6" fill="#e8f3fb" stroke="#1a2a3a" stroke-width="1.2"/>
<polygon points="932.6,730.8 941.6,717.0 970.4,715.5 963.6,728.0 957.6,725.0" fill="#3a8fd6" stroke="#12304f" stroke-width="1.5" stroke-linejoin="round"/>
<polyline points="932.6,730.8 941.6,717.0" fill="none" stroke="#0d2440" stroke-width="2.2"/>
<circle cx="965.6" cy="729.5" r="2.6" fill="#e8f3fb" stroke="#1a2a3a" stroke-width="1.2"/>
<circle cx="743" cy="725.5" r="2.6" fill="#e8f3fb" stroke="#1a2a3a" stroke-width="1.2"/>
<text x="747" y="707.0" font-family="Liberation Sans, sans-serif" font-size="8.5" font-weight="bold" fill="#222" text-anchor="middle" stroke="#222" stroke-width="0.25">H</text>
<circle cx="747" cy="711.0" r="2.6" fill="#e8f3fb" stroke="#1a2a3a" stroke-width="1.2"/>
<text x="804.5" y="714.0" font-family="Liberation Sans, sans-serif" font-size="8.5" font-weight="bold" fill="#222" text-anchor="middle" stroke="#222" stroke-width="0.25">HO</text>
<text x="840" y="714.0" font-family="Liberation Sans, sans-serif" font-size="8.5" font-weight="bold" fill="#222" text-anchor="middle" stroke="#222" stroke-width="0.25">OH</text>
<text x="866.7" y="707.0" font-family="Liberation Sans, sans-serif" font-size="8.5" font-weight="bold" fill="#222" text-anchor="middle" stroke="#222" stroke-width="0.25">H</text>
<circle cx="866.7" cy="711.0" r="2.6" fill="#e8f3fb" stroke="#1a2a3a" stroke-width="1.2"/>
<text x="925" y="714.0" font-family="Liberation Sans, sans-serif" font-size="8.5" font-weight="bold" fill="#222" text-anchor="middle" stroke="#222" stroke-width="0.25">HO</text>
<text x="963" y="714.0" font-family="Liberation Sans, sans-serif" font-size="8.5" font-weight="bold" fill="#222" text-anchor="middle" stroke="#222" stroke-width="0.25">OH</text>
<text x="748" y="740.5" font-family="Liberation Sans, sans-serif" font-size="8.5" font-weight="bold" fill="#222" text-anchor="middle" stroke="#222" stroke-width="0.25">HO</text>
<text x="782.5" y="740.5" font-family="Liberation Sans, sans-serif" font-size="8.5" font-weight="bold" fill="#222" text-anchor="middle" stroke="#222" stroke-width="0.25">OH</text>
<circle cx="808" cy="737.0" r="2.6" fill="#e8f3fb" stroke="#1a2a3a" stroke-width="1.2"/>
<text x="808" y="747.5" font-family="Liberation Sans, sans-serif" font-size="8.5" font-weight="bold" fill="#222" text-anchor="middle" stroke="#222" stroke-width="0.25">H</text>
<text x="866.7" y="740.5" font-family="Liberation Sans, sans-serif" font-size="8.5" font-weight="bold" fill="#222" text-anchor="middle" stroke="#222" stroke-width="0.25">HO</text>
<text x="904.5" y="740.5" font-family="Liberation Sans, sans-serif" font-size="8.5" font-weight="bold" fill="#222" text-anchor="middle" stroke="#222" stroke-width="0.25">OH</text>
<circle cx="929" cy="737.0" r="2.6" fill="#e8f3fb" stroke="#1a2a3a" stroke-width="1.2"/>
<text x="929" y="747.5" font-family="Liberation Sans, sans-serif" font-size="8.5" font-weight="bold" fill="#222" text-anchor="middle" stroke="#222" stroke-width="0.25">H</text>
<polyline points="740,776.5 973,776.5" fill="none" stroke="#2a3a55" stroke-width="0.8" opacity="0.5"/>
<polygon points="749.6,767.5 760.6,782.2 787.4,782.8 778.2,769.9 763.6,773.6" fill="#3a8fd6" stroke="#12304f" stroke-width="1.5" stroke-linejoin="round"/>
<polyline points="749.6,767.5 760.6,782.2 787.4,782.8" fill="none" stroke="#0d2440" stroke-width="2.2"/>
<circle cx="777.6" cy="766.5" r="2.6" fill="#e8f3fb" stroke="#1a2a3a" stroke-width="1.2"/>
<circle cx="797.6" cy="777.5" r="2.6" fill="#e8f3fb" stroke="#1a2a3a" stroke-width="1.2"/>
<polygon points="810.7,782.8 819.7,769.0 848.5,767.5 841.7,780.0 835.7,777.0" fill="#3a8fd6" stroke="#12304f" stroke-width="1.5" stroke-linejoin="round"/>
<polyline points="810.7,782.8 819.7,769.0" fill="none" stroke="#0d2440" stroke-width="2.2"/>
<circle cx="843.7" cy="781.5" r="2.6" fill="#e8f3fb" stroke="#1a2a3a" stroke-width="1.2"/>
<circle cx="858.7" cy="772.5" r="2.6" fill="#e8f3fb" stroke="#1a2a3a" stroke-width="1.2"/>
<polygon points="872.0,767.5 883.0,782.2 909.8,782.8 900.6,769.9 886.0,773.6" fill="#3a8fd6" stroke="#12304f" stroke-width="1.5" stroke-linejoin="round"/>
<polyline points="872.0,767.5 883.0,782.2 909.8,782.8" fill="none" stroke="#0d2440" stroke-width="2.2"/>
<circle cx="900.0" cy="766.5" r="2.6" fill="#e8f3fb" stroke="#1a2a3a" stroke-width="1.2"/>
<circle cx="920.0" cy="777.5" r="2.6" fill="#e8f3fb" stroke="#1a2a3a" stroke-width="1.2"/>
<polygon points="932.6,782.8 941.6,769.0 970.4,767.5 963.6,780.0 957.6,777.0" fill="#3a8fd6" stroke="#12304f" stroke-width="1.5" stroke-linejoin="round"/>
<polyline points="932.6,782.8 941.6,769.0" fill="none" stroke="#0d2440" stroke-width="2.2"/>
<circle cx="965.6" cy="781.5" r="2.6" fill="#e8f3fb" stroke="#1a2a3a" stroke-width="1.2"/>
<circle cx="743" cy="777.5" r="2.6" fill="#e8f3fb" stroke="#1a2a3a" stroke-width="1.2"/>
<text x="747" y="759.0" font-family="Liberation Sans, sans-serif" font-size="8.5" font-weight="bold" fill="#222" text-anchor="middle" stroke="#222" stroke-width="0.25">H</text>
<circle cx="747" cy="763.0" r="2.6" fill="#e8f3fb" stroke="#1a2a3a" stroke-width="1.2"/>
<text x="804.5" y="766.0" font-family="Liberation Sans, sans-serif" font-size="8.5" font-weight="bold" fill="#222" text-anchor="middle" stroke="#222" stroke-width="0.25">HO</text>
<text x="840" y="766.0" font-family="Liberation Sans, sans-serif" font-size="8.5" font-weight="bold" fill="#222" text-anchor="middle" stroke="#222" stroke-width="0.25">OH</text>
<text x="866.7" y="759.0" font-family="Liberation Sans, sans-serif" font-size="8.5" font-weight="bold" fill="#222" text-anchor="middle" stroke="#222" stroke-width="0.25">H</text>
<circle cx="866.7" cy="763.0" r="2.6" fill="#e8f3fb" stroke="#1a2a3a" stroke-width="1.2"/>
<text x="925" y="766.0" font-family="Liberation Sans, sans-serif" font-size="8.5" font-weight="bold" fill="#222" text-anchor="middle" stroke="#222" stroke-width="0.25">HO</text>
<text x="963" y="766.0" font-family="Liberation Sans, sans-serif" font-size="8.5" font-weight="bold" fill="#222" text-anchor="middle" stroke="#222" stroke-width="0.25">OH</text>
<text x="748" y="791.8" font-family="Liberation Sans, sans-serif" font-size="8.5" font-weight="bold" fill="#222" text-anchor="middle" stroke="#222" stroke-width="0.25">HO</text>
<text x="782.5" y="791.8" font-family="Liberation Sans, sans-serif" font-size="8.5" font-weight="bold" fill="#222" text-anchor="middle" stroke="#222" stroke-width="0.25">OH</text>
<circle cx="808" cy="788.3" r="2.6" fill="#e8f3fb" stroke="#1a2a3a" stroke-width="1.2"/>
<text x="808" y="798.8" font-family="Liberation Sans, sans-serif" font-size="8.5" font-weight="bold" fill="#222" text-anchor="middle" stroke="#222" stroke-width="0.25">H</text>
<text x="866.7" y="791.8" font-family="Liberation Sans, sans-serif" font-size="8.5" font-weight="bold" fill="#222" text-anchor="middle" stroke="#222" stroke-width="0.25">HO</text>
<text x="904.5" y="791.8" font-family="Liberation Sans, sans-serif" font-size="8.5" font-weight="bold" fill="#222" text-anchor="middle" stroke="#222" stroke-width="0.25">OH</text>
<circle cx="929" cy="788.3" r="2.6" fill="#e8f3fb" stroke="#1a2a3a" stroke-width="1.2"/>
<text x="929" y="798.8" font-family="Liberation Sans, sans-serif" font-size="8.5" font-weight="bold" fill="#222" text-anchor="middle" stroke="#222" stroke-width="0.25">H</text>
<line x1="749.5" y1="691.5" x2="747" y2="700.5" stroke="#e0282e" stroke-width="2.8"/>
<line x1="808" y1="698.5" x2="807.5" y2="706.5" stroke="#e0282e" stroke-width="2.8"/>
<line x1="870.5" y1="691.5" x2="868" y2="700.5" stroke="#e0282e" stroke-width="2.8"/>
<line x1="929" y1="698.5" x2="928.5" y2="706.5" stroke="#e0282e" stroke-width="2.8"/>
<line x1="749.5" y1="742.5" x2="747" y2="751.5" stroke="#e0282e" stroke-width="2.8"/>
<line x1="808" y1="749.5" x2="807.5" y2="757.5" stroke="#e0282e" stroke-width="2.8"/>
<line x1="870.5" y1="742.5" x2="868" y2="751.5" stroke="#e0282e" stroke-width="2.8"/>
<line x1="929" y1="749.5" x2="928.5" y2="757.5" stroke="#e0282e" stroke-width="2.8"/>
<ellipse cx="746" cy="697" rx="11.5" ry="17" fill="none" stroke="#d42a30" stroke-width="1.8"/>
<line x1="739" y1="680" x2="728" y2="650" stroke="#c8282e" stroke-width="1.5"/><polygon points="726,644 723.5,654 731,652" fill="#c8282e"/>
<text x="695.1" y="836" font-family="Liberation Sans, sans-serif" font-size="21.2" fill="#231f20" stroke="#231f20" stroke-width="0.55">Cellulose molecular chain</text>
<rect x="113.4" y="536" width="444.1" height="264.5" fill="none" stroke="#231f20" stroke-width="1.6"/>
<line x1="108.4" y1="800.5" x2="113.4" y2="800.5" stroke="#231f20" stroke-width="1.3"/>
<text x="99.6" y="809.5" font-family="Liberation Sans, sans-serif" font-size="20.4" fill="#231f20" text-anchor="end" stroke="#231f20" stroke-width="0.55">0</text>
<line x1="110.4" y1="776.5" x2="113.4" y2="776.5" stroke="#231f20" stroke-width="1.3"/>
<line x1="108.4" y1="752.5" x2="113.4" y2="752.5" stroke="#231f20" stroke-width="1.3"/>
<text x="104.8" y="761.5" font-family="Liberation Sans, sans-serif" font-size="20.4" fill="#231f20" text-anchor="end" stroke="#231f20" stroke-width="0.55">100</text>
<line x1="110.4" y1="728.5" x2="113.4" y2="728.5" stroke="#231f20" stroke-width="1.3"/>
<line x1="108.4" y1="704.4" x2="113.4" y2="704.4" stroke="#231f20" stroke-width="1.3"/>
<text x="104.8" y="713.4" font-family="Liberation Sans, sans-serif" font-size="20.4" fill="#231f20" text-anchor="end" stroke="#231f20" stroke-width="0.55">200</text>
<line x1="110.4" y1="680.4" x2="113.4" y2="680.4" stroke="#231f20" stroke-width="1.3"/>
<line x1="108.4" y1="656.4" x2="113.4" y2="656.4" stroke="#231f20" stroke-width="1.3"/>
<text x="104.8" y="665.4" font-family="Liberation Sans, sans-serif" font-size="20.4" fill="#231f20" text-anchor="end" stroke="#231f20" stroke-width="0.55">300</text>
<line x1="110.4" y1="632.4" x2="113.4" y2="632.4" stroke="#231f20" stroke-width="1.3"/>
<line x1="108.4" y1="608.4" x2="113.4" y2="608.4" stroke="#231f20" stroke-width="1.3"/>
<text x="104.8" y="617.4" font-family="Liberation Sans, sans-serif" font-size="20.4" fill="#231f20" text-anchor="end" stroke="#231f20" stroke-width="0.55">400</text>
<line x1="110.4" y1="584.4" x2="113.4" y2="584.4" stroke="#231f20" stroke-width="1.3"/>
<line x1="108.4" y1="560.4" x2="113.4" y2="560.4" stroke="#231f20" stroke-width="1.3"/>
<text x="104.8" y="569.4" font-family="Liberation Sans, sans-serif" font-size="20.4" fill="#231f20" text-anchor="end" stroke="#231f20" stroke-width="0.55">500</text>
<line x1="110.4" y1="536.3" x2="113.4" y2="536.3" stroke="#231f20" stroke-width="1.3"/>
<rect x="128.6" y="727" width="45.0" height="73.5" fill="#231f20" stroke="#231f20" stroke-width="1"/>
<line x1="151.1" y1="800.5" x2="151.1" y2="805.5" stroke="#231f20" stroke-width="1.3"/>
<rect x="202.5" y="714" width="45.0" height="86.5" fill="#231f20" stroke="#231f20" stroke-width="1"/>
<line x1="225.0" y1="800.5" x2="225.0" y2="805.5" stroke="#231f20" stroke-width="1.3"/>
<rect x="276.4" y="690.8" width="45.5" height="109.70000000000005" fill="#231f20" stroke="#231f20" stroke-width="1"/>
<line x1="299.15" y1="800.5" x2="299.15" y2="805.5" stroke="#231f20" stroke-width="1.3"/>
<rect x="350.3" y="683" width="44.80000000000001" height="117.5" fill="#231f20" stroke="#231f20" stroke-width="1"/>
<line x1="372.70000000000005" y1="800.5" x2="372.70000000000005" y2="805.5" stroke="#231f20" stroke-width="1.3"/>
<rect x="424.4" y="749.1" width="44.30000000000001" height="51.39999999999998" fill="#3853a4" stroke="#231f20" stroke-width="1"/>
<line x1="446.54999999999995" y1="800.5" x2="446.54999999999995" y2="805.5" stroke="#231f20" stroke-width="1.3"/>
<rect x="497.7" y="598.2" width="44.80000000000001" height="202.29999999999995" fill="#ec1c24" stroke="#231f20" stroke-width="1"/>
<line x1="520.1" y1="800.5" x2="520.1" y2="805.5" stroke="#231f20" stroke-width="1.3"/>
<line x1="446.5" y1="744.6" x2="446.5" y2="754.8" stroke="#231f20" stroke-width="1.3"/><line x1="443" y1="744.6" x2="450" y2="744.6" stroke="#231f20" stroke-width="1.3"/><line x1="443" y1="754.8" x2="450" y2="754.8" stroke="#231f20" stroke-width="1.3"/>
<line x1="520.1" y1="580.2" x2="520.1" y2="616.1" stroke="#231f20" stroke-width="1.3"/><line x1="517" y1="580.2" x2="523" y2="580.2" stroke="#231f20" stroke-width="1.3"/><line x1="517" y1="616.1" x2="523" y2="616.1" stroke="#231f20" stroke-width="1.3"/>
<text x="463.6" y="571.3" font-family="Liberation Sans, sans-serif" font-size="19.7" fill="#d6303e" stroke="#d6303e" stroke-width="0.55">This work</text>
<text x="155.1" y="822.5" font-family="Liberation Sans, sans-serif" font-size="20" fill="#231f20" text-anchor="end" transform="rotate(-45 155.1 822.5)" stroke="#231f20" stroke-width="0.55">TRIPLEX</text>
<text x="229.0" y="822.5" font-family="Liberation Sans, sans-serif" font-size="21" fill="#231f20" text-anchor="end" transform="rotate(-45 229.0 822.5)" stroke="#231f20" stroke-width="0.55">Al alloy 2000</text>
<text x="304.6" y="823.5" font-family="Liberation Sans, sans-serif" font-size="20" fill="#231f20" text-anchor="end" transform="rotate(-45 304.6 823.5)" stroke="#231f20" stroke-width="0.55">HSSS</text>
<text x="376.7" y="822.5" font-family="Liberation Sans, sans-serif" font-size="20.5" fill="#231f20" text-anchor="end" transform="rotate(-45 376.7 822.5)" stroke="#231f20" stroke-width="0.55">Ti6Al4V</text>
<text x="449.0" y="823.0" font-family="Liberation Sans, sans-serif" font-size="20.9" fill="#231f20" text-anchor="end" transform="rotate(-45 449.0 823.0)" stroke="#231f20" stroke-width="0.55">Natural wood</text>
<text x="525.3" y="823.3" font-family="Liberation Sans, sans-serif" font-size="21" fill="#dd2a32" text-anchor="end" transform="rotate(-45 525.3 823.3)" stroke="#dd2a32" stroke-width="0.55">Densified wood</text>
<text x="0" y="0" font-family="Liberation Sans, sans-serif" font-size="21.2" fill="#231f20" text-anchor="middle" transform="translate(55 671.3) rotate(-90)" stroke="#231f20" stroke-width="0.55">Specific strength (MPa cm<tspan font-size="13.5" dy="-7.5">3</tspan><tspan dy="7.5"> g</tspan><tspan font-size="13.5" dy="-7.5">−1</tspan><tspan dy="7.5">)</tspan></text>
<text x="48.8" y="23.2" font-family="Liberation Sans, sans-serif" font-size="25.5" font-weight="bold" fill="#111" stroke="#111" stroke-width="0.8">a</text>
<text x="43.2" y="518.5" font-family="Liberation Sans, sans-serif" font-size="25.5" font-weight="bold" fill="#111" stroke="#111" stroke-width="0.7">b</text>
<text x="173.2" y="21.2" font-family="Liberation Sans, sans-serif" font-size="21.4" fill="#2c3278" stroke="#2c3278" stroke-width="0.55">Natural wood</text>
<text x="750.8" y="19.7" font-family="Liberation Sans, sans-serif" font-size="21.4" fill="#e0282e" stroke="#e0282e" stroke-width="0.55">Densified wood</text>
<text x="621.2" y="40.4" font-family="Liberation Sans, sans-serif" font-size="21.0" fill="#231f20" stroke="#231f20" stroke-width="0.55">(approximately 80% reduction in thickness)</text></svg></body></html>
